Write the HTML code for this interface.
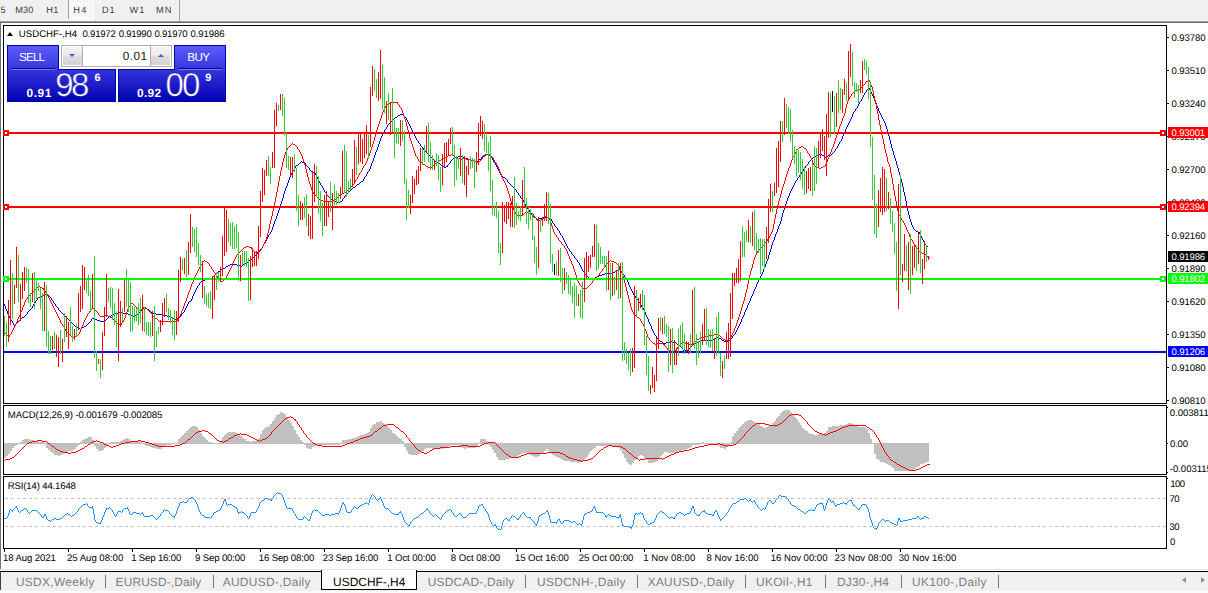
<!DOCTYPE html>
<html><head><meta charset="utf-8"><title>USDCHF-,H4</title>
<style>
html,body{margin:0;padding:0;background:#fff;}
html{overflow:hidden;width:1208px;height:593px;}
body{width:1208px;height:593px;position:relative;overflow:hidden;font-family:"Liberation Sans", sans-serif;}
.t{position:absolute;white-space:nowrap;font-family:"Liberation Sans", sans-serif;text-rendering:geometricPrecision;}
.abs{position:absolute}
</style></head><body>
<!-- toolbar -->
<div class="abs" style="left:0;top:0;width:1208px;height:21px;background:#f0f0f0"></div>
<div class="abs" style="left:0;top:21px;width:1208px;height:1px;background:#a0a0a0"></div>
<div class="abs" style="left:0;top:22px;width:1208px;height:1px;background:#696969"></div>
<div class="abs" style="left:0;top:22px;width:1px;height:547px;background:#707070"></div>
<div class="abs" style="left:68px;top:0;width:1px;height:19px;background:#a0a0a0"></div>
<div class="abs" style="left:69px;top:0;width:24px;height:19px;background:conic-gradient(#fff 25%,#f0f0f0 0 50%,#fff 0 75%,#f0f0f0 0) 0 0/2px 2px"></div>
<div class="abs" style="left:68px;top:19px;width:26px;height:1px;background:#fff"></div>
<div class="abs" style="left:93px;top:0;width:1px;height:20px;background:#fff"></div>
<div class="abs" style="left:179px;top:0;width:1px;height:21px;background:#a0a0a0"></div>
<!-- bottom tabs bar -->
<div class="abs" style="left:0;top:569px;width:1208px;height:1px;background:#e3e3e3"></div>
<div class="abs" style="left:0;top:572px;width:1208px;height:19px;background:#f0f0f0"></div>
<div class="abs" style="left:0;top:591px;width:1208px;height:2px;background:#fbfbfb"></div>
<div class="abs" style="left:0;top:571px;width:1208px;height:1px;background:#000"></div>
<div class="abs" style="left:0;top:572px;width:1px;height:18px;background:#404040"></div>
<div class="abs" style="left:321px;top:570px;width:96px;height:20px;background:#fff;border:1px solid #000;border-top:none;box-sizing:border-box"></div>
<div class="abs" style="left:1182px;top:577px;width:0;height:0;border-top:3.5px solid transparent;border-bottom:3.5px solid transparent;border-right:4px solid #909090"></div>
<div class="abs" style="left:1201px;top:577px;width:0;height:0;border-top:3.5px solid transparent;border-bottom:3.5px solid transparent;border-left:4px solid #909090"></div>
<!-- chart svg -->
<svg class="abs" style="left:0;top:0" width="1208" height="593" viewBox="0 0 1208 593" shape-rendering="crispEdges">
<path d="M4.5 304V306M5.5 306V309M6.5 309V311M7.5 311V314M8.5 314V316M9.5 316V318M10.5 318V320M11.5 320V321M12.5 321V323M13.5 323V325M14.5 325V326M15.5 324V325M16.5 323V324M17.5 322V323M18.5 321V322M19.5 320V321M20.5 319V320M21.5 318V319M22.5 317V318M23.5 317V318M24.5 316V317M25.5 315V316M26.5 314V315M27.5 312V314M28.5 311V312M29.5 310V311M30.5 309V310M31.5 308V309M32.5 306V308M33.5 304V306M34.5 303V304M35.5 301V303M36.5 300V301M37.5 298V300M38.5 297V298M39.5 297V298M40.5 296V297M41.5 296V297M42.5 295V296M43.5 295V296M44.5 294V295M45.5 294V295M46.5 295V296M47.5 295V296M48.5 295V296M49.5 296V297M50.5 297V298M51.5 298V300M52.5 300V301M53.5 301V303M54.5 303V304M55.5 304V306M56.5 306V307M57.5 307V308M58.5 308V310M59.5 310V311M60.5 311V312M61.5 312V313M62.5 313V314M63.5 314V315M64.5 315V316M65.5 316V317M66.5 317V318M67.5 318V319M68.5 319V320M69.5 320V321M70.5 321V322M71.5 322V323M72.5 323V324M73.5 324V325M74.5 325V326M75.5 326V327M76.5 326V327M77.5 327V328M78.5 328V329M79.5 328V329M80.5 329V330M81.5 328V329M82.5 327V328M83.5 327V328M84.5 326V327M85.5 326V327M86.5 325V326M87.5 324V325M88.5 323V324M89.5 322V323M90.5 321V322M91.5 319V321M92.5 318V319M93.5 318V319M94.5 319V320M95.5 319V320M96.5 319V320M97.5 320V321M98.5 320V321M99.5 320V321M100.5 321V322M101.5 321V322M102.5 321V322M103.5 321V322M104.5 321V322M105.5 320V321M106.5 319V320M107.5 318V319M108.5 317V318M109.5 316V317M110.5 316V317M111.5 315V316M112.5 315V316M113.5 314V315M114.5 313V314M115.5 313V314M116.5 313V314M117.5 313V314M118.5 313V314M119.5 312V313M120.5 312V313M121.5 312V313M122.5 312V313M123.5 313V314M124.5 313V314M125.5 313V314M126.5 313V314M127.5 313V314M128.5 314V315M129.5 314V315M130.5 315V316M131.5 315V316M132.5 316V317M133.5 316V317M134.5 315V316M135.5 315V316M136.5 314V315M137.5 314V315M138.5 313V315M139.5 312V313M140.5 311V312M141.5 310V311M142.5 309V310M143.5 308V309M144.5 308V309M145.5 308V309M146.5 308V309M147.5 309V310M148.5 309V310M149.5 310V311M150.5 311V312M151.5 312V313M152.5 312V313M153.5 313V314M154.5 313V314M155.5 313V314M156.5 314V315M157.5 314V315M158.5 314V315M159.5 314V315M160.5 314V315M161.5 314V315M162.5 315V316M163.5 315V316M164.5 315V316M165.5 315V316M166.5 315V316M167.5 316V317M168.5 316V317M169.5 316V317M170.5 317V318M171.5 317V318M172.5 318V319M173.5 318V319M174.5 319V320M175.5 319V320M176.5 318V319M177.5 318V319M178.5 317V318M179.5 317V318M180.5 316V317M181.5 314V316M182.5 313V314M183.5 312V313M184.5 310V312M185.5 308V310M186.5 306V308M187.5 304V306M188.5 302V304M189.5 301V302M190.5 301V302M191.5 299V301M192.5 296V299M193.5 294V296M194.5 292V294M195.5 290V292M196.5 288V290M197.5 286V288M198.5 285V286M199.5 283V285M200.5 282V283M201.5 281V282M202.5 281V282M203.5 280V281M204.5 280V281M205.5 279V280M206.5 279V280M207.5 279V280M208.5 278V279M209.5 278V279M210.5 278V279M211.5 278V279M212.5 277V278M213.5 276V277M214.5 275V276M215.5 274V275M216.5 273V274M217.5 272V273M218.5 271V272M219.5 271V272M220.5 270V271M221.5 269V270M222.5 269V270M223.5 268V269M224.5 268V269M225.5 267V268M226.5 266V267M227.5 266V267M228.5 265V266M229.5 265V266M230.5 264V265M231.5 264V265M232.5 264V265M233.5 264V265M234.5 264V265M235.5 264V265M236.5 264V265M237.5 265V266M238.5 265V266M239.5 265V266M240.5 265V266M241.5 266V267M242.5 265V266M243.5 264V265M244.5 264V265M245.5 263V264M246.5 262V263M247.5 262V263M248.5 261V262M249.5 260V261M250.5 259V260M251.5 259V260M252.5 258V259M253.5 257V258M254.5 256V257M255.5 255V256M256.5 254V256M257.5 253V254M258.5 252V253M259.5 251V252M260.5 250V251M261.5 248V250M262.5 246V248M263.5 244V246M264.5 243V244M265.5 241V243M266.5 239V241M267.5 237V239M268.5 235V237M269.5 234V235M270.5 232V234M271.5 230V232M272.5 227V230M273.5 224V227M274.5 221V224M275.5 219V221M276.5 216V219M277.5 213V216M278.5 210V213M279.5 208V210M280.5 204V208M281.5 201V204M282.5 198V201M283.5 194V198M284.5 191V194M285.5 188V191M286.5 186V188M287.5 183V186M288.5 180V183M289.5 177V180M290.5 175V177M291.5 173V175M292.5 171V173M293.5 170V171M294.5 168V170M295.5 166V168M296.5 165V166M297.5 165V166M298.5 164V165M299.5 163V164M300.5 162V163M301.5 161V162M302.5 162V163M303.5 162V163M304.5 163V164M305.5 163V165M306.5 165V166M307.5 166V167M308.5 167V168M309.5 168V170M310.5 170V171M311.5 171V172M312.5 171V172M313.5 172V173M314.5 173V174M315.5 173V175M316.5 175V177M317.5 177V179M318.5 179V181M319.5 181V183M320.5 183V185M321.5 185V186M322.5 186V188M323.5 188V190M324.5 190V192M325.5 192V193M326.5 193V195M327.5 195V196M328.5 196V197M329.5 197V198M330.5 198V199M331.5 199V200M332.5 200V201M333.5 200V201M334.5 201V202M335.5 201V202M336.5 202V203M337.5 202V203M338.5 202V203M339.5 202V203M340.5 201V202M341.5 201V202M342.5 199V201M343.5 198V199M344.5 196V198M345.5 195V196M346.5 194V195M347.5 193V194M348.5 192V193M349.5 191V192M350.5 190V191M351.5 189V190M352.5 188V189M353.5 187V188M354.5 187V188M355.5 186V187M356.5 185V186M357.5 184V185M358.5 184V185M359.5 183V184M360.5 182V183M361.5 181V182M362.5 181V182M363.5 179V181M364.5 177V179M365.5 176V177M366.5 174V176M367.5 172V174M368.5 171V172M369.5 169V171M370.5 166V169M371.5 163V166M372.5 161V163M373.5 158V161M374.5 155V158M375.5 152V155M376.5 150V152M377.5 147V150M378.5 144V147M379.5 141V144M380.5 138V141M381.5 136V138M382.5 134V136M383.5 132V134M384.5 130V132M385.5 129V130M386.5 127V129M387.5 125V127M388.5 124V125M389.5 123V124M390.5 122V123M391.5 121V122M392.5 120V121M393.5 119V120M394.5 118V119M395.5 117V118M396.5 117V118M397.5 116V117M398.5 115V116M399.5 115V116M400.5 114V115M401.5 114V115M402.5 114V115M403.5 115V116M404.5 116V117M405.5 117V118M406.5 118V120M407.5 120V122M408.5 122V124M409.5 124V126M410.5 126V128M411.5 128V130M412.5 130V132M413.5 132V134M414.5 134V136M415.5 136V138M416.5 138V140M417.5 140V141M418.5 141V143M419.5 143V144M420.5 144V146M421.5 146V147M422.5 147V148M423.5 148V150M424.5 150V151M425.5 151V152M426.5 152V153M427.5 153V154M428.5 154V155M429.5 155V156M430.5 156V157M431.5 157V158M432.5 158V159M433.5 159V160M434.5 160V161M435.5 161V162M436.5 161V162M437.5 162V163M438.5 163V164M439.5 163V164M440.5 164V165M441.5 165V166M442.5 165V166M443.5 166V167M444.5 167V168M445.5 167V168M446.5 166V167M447.5 165V167M448.5 164V165M449.5 163V164M450.5 161V163M451.5 160V161M452.5 159V160M453.5 158V159M454.5 157V158M455.5 157V158M456.5 157V158M457.5 157V158M458.5 156V157M459.5 156V157M460.5 155V156M461.5 156V157M462.5 156V157M463.5 157V158M464.5 157V158M465.5 158V159M466.5 158V159M467.5 158V159M468.5 159V160M469.5 159V160M470.5 159V160M471.5 160V161M472.5 160V161M473.5 160V161M474.5 161V162M475.5 161V162M476.5 161V162M477.5 161V162M478.5 160V161M479.5 159V160M480.5 159V160M481.5 157V159M482.5 156V157M483.5 155V156M484.5 155V156M485.5 154V155M486.5 154V155M487.5 154V155M488.5 154V155M489.5 155V156M490.5 156V157M491.5 157V158M492.5 158V160M493.5 160V162M494.5 162V163M495.5 163V165M496.5 165V167M497.5 167V169M498.5 169V171M499.5 171V173M500.5 173V175M501.5 175V176M502.5 176V177M503.5 177V178M504.5 177V178M505.5 178V179M506.5 179V180M507.5 180V182M508.5 182V183M509.5 183V184M510.5 184V185M511.5 185V186M512.5 186V187M513.5 187V188M514.5 188V189M515.5 189V190M516.5 190V192M517.5 192V193M518.5 193V195M519.5 195V196M520.5 196V198M521.5 198V199M522.5 199V200M523.5 200V202M524.5 202V204M525.5 204V206M526.5 206V208M527.5 208V209M528.5 209V210M529.5 210V212M530.5 212V213M531.5 213V214M532.5 214V216M533.5 216V217M534.5 217V218M535.5 217V218M536.5 218V219M537.5 219V220M538.5 218V219M539.5 218V219M540.5 218V219M541.5 218V219M542.5 218V219M543.5 217V218M544.5 217V218M545.5 217V218M546.5 217V218M547.5 217V218M548.5 217V218M549.5 218V219M550.5 218V219M551.5 219V221M552.5 221V223M553.5 223V224M554.5 224V226M555.5 226V227M556.5 227V228M557.5 228V230M558.5 230V231M559.5 231V233M560.5 233V235M561.5 235V236M562.5 236V238M563.5 238V240M564.5 240V242M565.5 242V244M566.5 244V246M567.5 246V248M568.5 248V249M569.5 249V251M570.5 251V252M571.5 252V254M572.5 254V255M573.5 255V256M574.5 256V258M575.5 258V259M576.5 259V260M577.5 260V262M578.5 262V263M579.5 263V265M580.5 265V267M581.5 267V269M582.5 269V271M583.5 271V272M584.5 272V274M585.5 274V275M586.5 275V276M587.5 276V277M588.5 277V278M589.5 278V279M590.5 278V279M591.5 278V279M592.5 278V279M593.5 278V279M594.5 278V279M595.5 277V278M596.5 277V278M597.5 276V277M598.5 276V277M599.5 275V276M600.5 275V276M601.5 275V276M602.5 274V275M603.5 274V275M604.5 274V275M605.5 273V274M606.5 273V274M607.5 273V274M608.5 273V274M609.5 273V274M610.5 273V274M611.5 273V274M612.5 272V273M613.5 272V273M614.5 272V273M615.5 271V272M616.5 271V272M617.5 270V271M618.5 270V271M619.5 269V270M620.5 270V271M621.5 271V272M622.5 272V274M623.5 274V275M624.5 275V277M625.5 277V279M626.5 279V280M627.5 280V282M628.5 282V285M629.5 285V287M630.5 287V289M631.5 289V291M632.5 291V293M633.5 293V295M634.5 295V296M635.5 296V298M636.5 298V299M637.5 299V300M638.5 300V302M639.5 302V303M640.5 303V305M641.5 305V307M642.5 307V308M643.5 308V310M644.5 310V312M645.5 312V315M646.5 315V317M647.5 317V319M648.5 319V322M649.5 322V324M650.5 324V326M651.5 326V329M652.5 329V331M653.5 331V333M654.5 333V335M655.5 335V336M656.5 336V338M657.5 338V339M658.5 339V340M659.5 340V341M660.5 341V342M661.5 341V342M662.5 342V343M663.5 343V344M664.5 343V344M665.5 343V344M666.5 342V343M667.5 342V343M668.5 342V343M669.5 342V343M670.5 342V343M671.5 341V342M672.5 341V342M673.5 342V343M674.5 342V343M675.5 342V343M676.5 343V344M677.5 344V345M678.5 344V345M679.5 345V346M680.5 346V347M681.5 347V348M682.5 348V350M683.5 350V351M684.5 351V352M685.5 350V351M686.5 350V351M687.5 350V351M688.5 349V350M689.5 348V349M690.5 347V348M691.5 346V347M692.5 345V346M693.5 344V345M694.5 344V345M695.5 343V344M696.5 342V343M697.5 342V343M698.5 341V342M699.5 341V342M700.5 341V342M701.5 340V341M702.5 340V341M703.5 340V341M704.5 340V341M705.5 340V341M706.5 340V341M707.5 340V341M708.5 340V341M709.5 340V341M710.5 340V341M711.5 340V341M712.5 340V341M713.5 339V340M714.5 339V340M715.5 338V339M716.5 337V338M717.5 337V338M718.5 337V338M719.5 338V339M720.5 338V339M721.5 339V340M722.5 340V341M723.5 340V341M724.5 341V342M725.5 341V342M726.5 342V343M727.5 341V342M728.5 341V342M729.5 340V341M730.5 339V340M731.5 338V339M732.5 336V338M733.5 335V336M734.5 334V335M735.5 332V334M736.5 330V332M737.5 328V330M738.5 326V328M739.5 324V326M740.5 322V324M741.5 319V322M742.5 317V319M743.5 315V317M744.5 312V315M745.5 310V312M746.5 308V310M747.5 305V308M748.5 303V305M749.5 301V303M750.5 298V301M751.5 296V298M752.5 294V296M753.5 291V294M754.5 289V291M755.5 287V289M756.5 284V287M757.5 282V284M758.5 280V282M759.5 278V280M760.5 276V278M761.5 274V276M762.5 272V274M763.5 269V272M764.5 267V269M765.5 264V267M766.5 261V264M767.5 259V261M768.5 255V259M769.5 252V255M770.5 249V252M771.5 245V249M772.5 242V245M773.5 240V242M774.5 237V240M775.5 234V237M776.5 232V234M777.5 229V232M778.5 226V229M779.5 224V226M780.5 221V224M781.5 217V221M782.5 213V217M783.5 210V213M784.5 207V210M785.5 204V207M786.5 201V204M787.5 198V201M788.5 196V198M789.5 193V196M790.5 191V193M791.5 189V191M792.5 187V189M793.5 185V187M794.5 183V185M795.5 181V183M796.5 180V181M797.5 178V180M798.5 177V178M799.5 175V177M800.5 174V175M801.5 172V174M802.5 171V172M803.5 169V171M804.5 168V169M805.5 166V168M806.5 165V166M807.5 164V165M808.5 162V164M809.5 161V162M810.5 160V161M811.5 159V160M812.5 158V159M813.5 157V158M814.5 157V158M815.5 156V157M816.5 156V157M817.5 155V156M818.5 155V156M819.5 154V155M820.5 154V155M821.5 154V155M822.5 155V156M823.5 155V156M824.5 156V157M825.5 157V158M826.5 156V157M827.5 156V157M828.5 155V156M829.5 155V156M830.5 155V156M831.5 154V155M832.5 153V154M833.5 152V153M834.5 151V152M835.5 149V151M836.5 148V149M837.5 146V148M838.5 144V146M839.5 142V144M840.5 141V142M841.5 139V141M842.5 136V139M843.5 134V136M844.5 132V134M845.5 129V132M846.5 127V129M847.5 125V127M848.5 123V125M849.5 121V123M850.5 119V121M851.5 117V119M852.5 114V117M853.5 112V114M854.5 111V112M855.5 109V111M856.5 108V109M857.5 106V108M858.5 104V106M859.5 102V104M860.5 101V102M861.5 99V101M862.5 97V99M863.5 95V97M864.5 93V95M865.5 92V93M866.5 90V92M867.5 89V90M868.5 88V89M869.5 88V90M870.5 90V92M871.5 92V94M872.5 94V96M873.5 96V98M874.5 98V101M875.5 101V103M876.5 103V106M877.5 106V108M878.5 108V111M879.5 111V113M880.5 113V115M881.5 115V117M882.5 117V119M883.5 119V121M884.5 121V123M885.5 123V126M886.5 126V129M887.5 129V133M888.5 133V136M889.5 136V140M890.5 140V144M891.5 144V148M892.5 148V151M893.5 151V155M894.5 155V158M895.5 158V161M896.5 161V165M897.5 165V168M898.5 168V172M899.5 172V175M900.5 175V179M901.5 179V183M902.5 183V187M903.5 187V192M904.5 192V196M905.5 196V201M906.5 201V206M907.5 206V211M908.5 211V215M909.5 215V219M910.5 219V222M911.5 222V225M912.5 225V227M913.5 227V229M914.5 229V230M915.5 230V231M916.5 231V232M917.5 231V232M918.5 232V233M919.5 232V234M920.5 234V236M921.5 236V238M922.5 238V240M923.5 240V242M924.5 242V244M925.5 244V245M926.5 245V246M927.5 246V247" stroke="#0000dc" stroke-width="1" fill="none"/>
<path d="M4.5 333V334M5.5 333V334M6.5 334V335M7.5 335V336M8.5 336V337M9.5 335V337M10.5 334V335M11.5 332V334M12.5 330V332M13.5 328V330M14.5 326V328M15.5 324V326M16.5 322V324M17.5 319V322M18.5 317V319M19.5 315V317M20.5 312V315M21.5 310V312M22.5 307V310M23.5 305V307M24.5 302V305M25.5 300V302M26.5 299V300M27.5 297V299M28.5 296V297M29.5 295V296M30.5 294V295M31.5 293V294M32.5 292V293M33.5 291V292M34.5 290V291M35.5 289V290M36.5 288V289M37.5 287V288M38.5 286V287M39.5 286V287M40.5 287V288M41.5 287V288M42.5 288V289M43.5 288V290M44.5 290V291M45.5 291V293M46.5 293V294M47.5 294V296M48.5 296V298M49.5 298V300M50.5 300V302M51.5 302V304M52.5 304V306M53.5 306V308M54.5 308V310M55.5 310V312M56.5 312V314M57.5 314V316M58.5 316V318M59.5 318V320M60.5 320V323M61.5 323V324M62.5 324V326M63.5 326V327M64.5 327V329M65.5 329V331M66.5 331V332M67.5 332V333M68.5 333V334M69.5 334V335M70.5 335V336M71.5 336V337M72.5 336V337M73.5 337V338M74.5 337V338M75.5 336V337M76.5 336V337M77.5 335V336M78.5 334V335M79.5 332V334M80.5 329V332M81.5 327V329M82.5 325V327M83.5 322V325M84.5 320V322M85.5 318V320M86.5 316V318M87.5 314V316M88.5 313V314M89.5 311V313M90.5 310V311M91.5 309V310M92.5 308V309M93.5 308V309M94.5 309V310M95.5 310V311M96.5 311V312M97.5 312V313M98.5 313V315M99.5 315V316M100.5 316V317M101.5 316V317M102.5 316V317M103.5 316V317M104.5 315V316M105.5 315V316M106.5 315V316M107.5 315V316M108.5 316V317M109.5 316V317M110.5 317V318M111.5 317V318M112.5 318V319M113.5 319V320M114.5 320V321M115.5 321V322M116.5 322V323M117.5 323V324M118.5 324V325M119.5 324V325M120.5 325V326M121.5 323V325M122.5 322V323M123.5 320V322M124.5 318V320M125.5 315V318M126.5 312V315M127.5 309V312M128.5 307V309M129.5 306V307M130.5 304V306M131.5 303V304M132.5 303V304M133.5 304V305M134.5 305V306M135.5 306V307M136.5 307V308M137.5 308V309M138.5 309V310M139.5 310V311M140.5 309V310M141.5 309V310M142.5 308V309M143.5 307V308M144.5 307V308M145.5 307V308M146.5 308V309M147.5 309V310M148.5 310V311M149.5 311V312M150.5 312V313M151.5 313V314M152.5 314V316M153.5 316V317M154.5 317V318M155.5 318V319M156.5 318V319M157.5 319V320M158.5 320V321M159.5 321V322M160.5 321V322M161.5 321V322M162.5 321V322M163.5 321V322M164.5 321V322M165.5 321V322M166.5 321V322M167.5 321V322M168.5 321V322M169.5 321V322M170.5 321V322M171.5 321V322M172.5 321V322M173.5 321V322M174.5 321V322M175.5 321V322M176.5 321V322M177.5 319V321M178.5 318V319M179.5 316V318M180.5 314V316M181.5 311V314M182.5 309V311M183.5 306V309M184.5 303V306M185.5 301V303M186.5 298V301M187.5 295V298M188.5 292V295M189.5 290V292M190.5 287V290M191.5 284V287M192.5 282V284M193.5 280V282M194.5 277V280M195.5 275V277M196.5 273V275M197.5 271V273M198.5 269V271M199.5 267V269M200.5 265V267M201.5 264V265M202.5 262V264M203.5 261V262M204.5 260V261M205.5 261V262M206.5 261V262M207.5 262V263M208.5 263V264M209.5 264V266M210.5 266V267M211.5 267V269M212.5 269V270M213.5 270V272M214.5 272V273M215.5 273V275M216.5 275V276M217.5 276V278M218.5 278V279M219.5 279V280M220.5 280V281M221.5 281V282M222.5 281V282M223.5 280V281M224.5 279V280M225.5 278V279M226.5 276V278M227.5 274V276M228.5 272V274M229.5 270V272M230.5 268V270M231.5 266V268M232.5 263V266M233.5 261V263M234.5 259V261M235.5 257V259M236.5 255V257M237.5 254V255M238.5 253V254M239.5 252V253M240.5 251V252M241.5 250V251M242.5 249V250M243.5 248V249M244.5 247V248M245.5 247V248M246.5 246V247M247.5 246V247M248.5 246V247M249.5 247V248M250.5 247V248M251.5 247V249M252.5 249V250M253.5 250V251M254.5 251V252M255.5 252V253M256.5 253V254M257.5 252V253M258.5 251V252M259.5 250V251M260.5 249V250M261.5 248V250M262.5 246V248M263.5 244V246M264.5 242V244M265.5 240V242M266.5 237V240M267.5 233V237M268.5 229V233M269.5 224V229M270.5 220V224M271.5 216V220M272.5 211V216M273.5 207V211M274.5 202V207M275.5 197V202M276.5 192V197M277.5 187V192M278.5 181V187M279.5 176V181M280.5 171V176M281.5 167V171M282.5 162V167M283.5 158V162M284.5 155V158M285.5 152V155M286.5 150V152M287.5 148V150M288.5 147V148M289.5 146V147M290.5 145V146M291.5 144V145M292.5 143V144M293.5 144V145M294.5 144V145M295.5 145V146M296.5 146V147M297.5 147V149M298.5 149V150M299.5 150V152M300.5 152V154M301.5 154V156M302.5 156V159M303.5 159V162M304.5 162V165M305.5 165V169M306.5 169V173M307.5 173V177M308.5 177V181M309.5 181V184M310.5 184V187M311.5 187V190M312.5 190V192M313.5 192V194M314.5 194V195M315.5 195V196M316.5 196V197M317.5 197V198M318.5 198V199M319.5 199V200M320.5 199V200M321.5 200V201M322.5 200V201M323.5 201V202M324.5 201V202M325.5 201V202M326.5 201V202M327.5 201V202M328.5 201V202M329.5 201V202M330.5 201V202M331.5 201V202M332.5 200V201M333.5 200V201M334.5 200V201M335.5 199V200M336.5 198V199M337.5 197V198M338.5 196V197M339.5 195V196M340.5 194V195M341.5 194V195M342.5 193V194M343.5 193V194M344.5 192V193M345.5 192V193M346.5 191V192M347.5 190V191M348.5 189V190M349.5 188V189M350.5 187V188M351.5 186V187M352.5 185V186M353.5 184V185M354.5 182V184M355.5 180V182M356.5 179V180M357.5 177V179M358.5 175V177M359.5 173V175M360.5 172V173M361.5 170V172M362.5 168V170M363.5 166V168M364.5 165V166M365.5 163V165M366.5 161V163M367.5 158V161M368.5 156V158M369.5 153V156M370.5 150V153M371.5 147V150M372.5 144V147M373.5 141V144M374.5 137V141M375.5 133V137M376.5 130V133M377.5 127V130M378.5 124V127M379.5 121V124M380.5 118V121M381.5 115V118M382.5 112V115M383.5 110V112M384.5 108V110M385.5 106V108M386.5 105V106M387.5 104V105M388.5 104V105M389.5 103V104M390.5 102V103M391.5 102V103M392.5 102V103M393.5 102V103M394.5 102V103M395.5 102V103M396.5 102V103M397.5 102V104M398.5 104V105M399.5 105V107M400.5 107V108M401.5 108V110M402.5 110V113M403.5 113V116M404.5 116V119M405.5 119V122M406.5 122V126M407.5 126V130M408.5 130V134M409.5 134V138M410.5 138V141M411.5 141V144M412.5 144V147M413.5 147V150M414.5 150V153M415.5 153V156M416.5 156V157M417.5 157V159M418.5 159V161M419.5 161V162M420.5 162V163M421.5 162V163M422.5 163V164M423.5 164V165M424.5 164V165M425.5 165V166M426.5 166V167M427.5 166V167M428.5 167V168M429.5 167V168M430.5 168V169M431.5 167V168M432.5 166V167M433.5 165V166M434.5 164V165M435.5 163V164M436.5 162V163M437.5 162V163M438.5 161V162M439.5 160V161M440.5 160V161M441.5 159V160M442.5 159V160M443.5 158V159M444.5 158V159M445.5 157V158M446.5 156V157M447.5 156V157M448.5 155V156M449.5 155V156M450.5 155V156M451.5 154V155M452.5 154V155M453.5 155V156M454.5 156V157M455.5 157V158M456.5 157V158M457.5 158V159M458.5 158V159M459.5 158V159M460.5 159V160M461.5 159V160M462.5 158V159M463.5 158V159M464.5 158V159M465.5 158V159M466.5 159V160M467.5 159V160M468.5 159V160M469.5 159V160M470.5 159V160M471.5 160V161M472.5 160V161M473.5 160V161M474.5 161V162M475.5 161V162M476.5 162V163M477.5 162V163M478.5 162V163M479.5 161V162M480.5 160V161M481.5 159V160M482.5 157V159M483.5 156V157M484.5 156V157M485.5 155V156M486.5 154V155M487.5 154V155M488.5 154V155M489.5 154V155M490.5 155V156M491.5 156V157M492.5 157V158M493.5 158V160M494.5 160V162M495.5 162V163M496.5 163V165M497.5 165V167M498.5 167V169M499.5 169V172M500.5 172V174M501.5 174V177M502.5 177V179M503.5 179V181M504.5 181V183M505.5 183V185M506.5 185V188M507.5 188V191M508.5 191V194M509.5 194V198M510.5 198V201M511.5 201V205M512.5 205V208M513.5 208V210M514.5 210V212M515.5 212V214M516.5 214V215M517.5 215V216M518.5 215V216M519.5 215V216M520.5 215V216M521.5 215V216M522.5 214V215M523.5 214V215M524.5 213V214M525.5 212V213M526.5 212V213M527.5 212V213M528.5 212V213M529.5 213V214M530.5 213V214M531.5 214V215M532.5 214V215M533.5 214V216M534.5 216V217M535.5 217V218M536.5 218V220M537.5 220V221M538.5 220V221M539.5 220V221M540.5 220V221M541.5 219V220M542.5 219V220M543.5 218V219M544.5 217V218M545.5 216V217M546.5 216V217M547.5 217V218M548.5 218V219M549.5 218V220M550.5 220V223M551.5 223V226M552.5 226V229M553.5 229V232M554.5 232V234M555.5 234V235M556.5 235V237M557.5 237V238M558.5 238V240M559.5 240V241M560.5 241V242M561.5 242V244M562.5 244V245M563.5 245V246M564.5 246V248M565.5 248V249M566.5 249V251M567.5 251V254M568.5 254V256M569.5 256V259M570.5 259V261M571.5 261V264M572.5 264V266M573.5 266V269M574.5 269V272M575.5 272V275M576.5 275V278M577.5 278V281M578.5 281V283M579.5 283V285M580.5 285V286M581.5 286V287M582.5 287V288M583.5 288V289M584.5 288V289M585.5 288V289M586.5 288V289M587.5 287V288M588.5 286V287M589.5 285V286M590.5 284V285M591.5 283V284M592.5 281V283M593.5 280V281M594.5 279V280M595.5 278V279M596.5 277V278M597.5 276V277M598.5 275V276M599.5 273V275M600.5 272V273M601.5 271V272M602.5 269V271M603.5 268V269M604.5 267V268M605.5 265V267M606.5 264V265M607.5 263V264M608.5 262V263M609.5 261V262M610.5 260V261M611.5 261V262M612.5 261V262M613.5 261V262M614.5 262V263M615.5 262V263M616.5 263V264M617.5 264V265M618.5 264V266M619.5 266V269M620.5 269V271M621.5 271V273M622.5 273V276M623.5 276V279M624.5 279V283M625.5 283V287M626.5 287V291M627.5 291V295M628.5 295V299M629.5 299V303M630.5 303V307M631.5 307V310M632.5 310V312M633.5 312V314M634.5 314V315M635.5 315V316M636.5 316V317M637.5 317V318M638.5 317V318M639.5 318V319M640.5 319V321M641.5 321V323M642.5 323V324M643.5 324V326M644.5 326V329M645.5 329V331M646.5 331V334M647.5 334V337M648.5 337V338M649.5 338V340M650.5 340V341M651.5 341V342M652.5 342V343M653.5 343V344M654.5 343V344M655.5 344V345M656.5 344V345M657.5 343V344M658.5 343V344M659.5 343V344M660.5 343V344M661.5 343V344M662.5 343V344M663.5 344V345M664.5 344V346M665.5 346V347M666.5 347V348M667.5 348V350M668.5 350V351M669.5 350V351M670.5 351V352M671.5 352V353M672.5 352V353M673.5 351V352M674.5 350V351M675.5 350V351M676.5 349V350M677.5 347V349M678.5 346V347M679.5 345V346M680.5 344V345M681.5 343V344M682.5 343V344M683.5 342V343M684.5 342V343M685.5 343V344M686.5 343V344M687.5 343V344M688.5 344V345M689.5 344V345M690.5 344V345M691.5 344V345M692.5 344V345M693.5 343V344M694.5 342V343M695.5 341V342M696.5 340V341M697.5 339V340M698.5 339V340M699.5 338V339M700.5 338V339M701.5 337V338M702.5 337V338M703.5 337V338M704.5 336V337M705.5 336V337M706.5 336V337M707.5 336V337M708.5 336V337M709.5 335V336M710.5 335V336M711.5 335V336M712.5 335V336M713.5 335V336M714.5 334V335M715.5 334V335M716.5 334V335M717.5 334V335M718.5 334V335M719.5 335V336M720.5 336V337M721.5 337V338M722.5 338V339M723.5 339V340M724.5 339V340M725.5 340V341M726.5 340V341M727.5 340V341M728.5 339V340M729.5 338V339M730.5 337V338M731.5 335V337M732.5 333V335M733.5 331V333M734.5 328V331M735.5 326V328M736.5 323V326M737.5 320V323M738.5 317V320M739.5 314V317M740.5 311V314M741.5 307V311M742.5 304V307M743.5 301V304M744.5 297V301M745.5 293V297M746.5 289V293M747.5 284V289M748.5 280V284M749.5 275V280M750.5 271V275M751.5 268V271M752.5 264V268M753.5 260V264M754.5 257V260M755.5 255V257M756.5 253V255M757.5 251V253M758.5 250V251M759.5 249V250M760.5 248V249M761.5 247V248M762.5 246V247M763.5 245V246M764.5 243V245M765.5 242V243M766.5 241V242M767.5 239V241M768.5 238V239M769.5 236V238M770.5 234V236M771.5 232V234M772.5 229V232M773.5 224V229M774.5 219V224M775.5 214V219M776.5 209V214M777.5 205V209M778.5 201V205M779.5 198V201M780.5 194V198M781.5 190V194M782.5 187V190M783.5 184V187M784.5 181V184M785.5 177V181M786.5 174V177M787.5 171V174M788.5 168V171M789.5 166V168M790.5 163V166M791.5 160V163M792.5 157V160M793.5 156V157M794.5 154V156M795.5 152V154M796.5 150V152M797.5 149V150M798.5 148V149M799.5 147V148M800.5 147V148M801.5 146V147M802.5 146V147M803.5 147V148M804.5 148V149M805.5 148V149M806.5 149V151M807.5 151V153M808.5 153V154M809.5 154V156M810.5 156V158M811.5 158V160M812.5 160V163M813.5 163V165M814.5 165V166M815.5 166V167M816.5 166V167M817.5 167V168M818.5 167V168M819.5 168V169M820.5 168V169M821.5 167V168M822.5 167V168M823.5 166V167M824.5 166V167M825.5 164V166M826.5 162V164M827.5 159V162M828.5 157V159M829.5 154V157M830.5 152V154M831.5 149V152M832.5 147V149M833.5 144V147M834.5 141V144M835.5 138V141M836.5 135V138M837.5 132V135M838.5 129V132M839.5 126V129M840.5 124V126M841.5 121V124M842.5 118V121M843.5 116V118M844.5 113V116M845.5 108V113M846.5 104V108M847.5 101V104M848.5 99V101M849.5 97V99M850.5 96V97M851.5 94V96M852.5 93V94M853.5 92V93M854.5 91V92M855.5 90V91M856.5 90V91M857.5 90V91M858.5 90V91M859.5 89V90M860.5 88V89M861.5 87V88M862.5 86V88M863.5 85V86M864.5 84V85M865.5 82V84M866.5 81V82M867.5 81V82M868.5 81V82M869.5 80V82M870.5 82V85M871.5 85V87M872.5 87V91M873.5 91V96M874.5 96V100M875.5 100V104M876.5 104V109M877.5 109V114M878.5 114V120M879.5 120V125M880.5 125V130M881.5 130V135M882.5 135V139M883.5 139V144M884.5 144V149M885.5 149V153M886.5 153V157M887.5 157V162M888.5 162V164M889.5 164V167M890.5 167V173M891.5 173V178M892.5 178V184M893.5 184V190M894.5 190V196M895.5 196V201M896.5 201V206M897.5 206V211M898.5 211V215M899.5 215V216M900.5 216V218M901.5 218V220M902.5 220V221M903.5 221V223M904.5 223V225M905.5 225V227M906.5 227V230M907.5 230V232M908.5 232V234M909.5 234V237M910.5 237V239M911.5 239V240M912.5 240V242M913.5 242V244M914.5 244V245M915.5 245V247M916.5 247V248M917.5 248V249M918.5 249V251M919.5 251V252M920.5 251V252M921.5 252V253M922.5 253V254M923.5 253V254M924.5 254V255M925.5 254V255M926.5 255V256M927.5 256V257M928.5 256V257M929.5 257V258" stroke="#ff0000" stroke-width="1" fill="none"/>
<rect x="4" y="132" width="1162" height="2" fill="#ff0000"/>
<rect x="4" y="206" width="1162" height="2" fill="#ff0000"/>
<rect x="4" y="278" width="1162" height="2" fill="#00ff00"/>
<rect x="4" y="351" width="1162" height="2" fill="#0000ff"/>
<path d="M4.5 316V336M6.5 322V347M12.5 273V319M18.5 255V302M26.5 268V283M28.5 269V303M30.5 293V307M34.5 272V309M36.5 280V299M38.5 283V291M40.5 288V309M42.5 293V331M46.5 285V347M48.5 331V354M50.5 336V354M54.5 332V349M60.5 330V354M64.5 313V342M70.5 307V335M72.5 326V342M76.5 324V337M86.5 279V293M88.5 275V296M90.5 291V312M94.5 256V358M96.5 351V371M100.5 359V378M108.5 288V302M110.5 287V308M112.5 288V320M114.5 303V325M116.5 311V347M122.5 308V322M126.5 269V307M128.5 279V312M130.5 282V332M132.5 306V331M134.5 307V322M136.5 308V321M138.5 303V325M140.5 298V323M144.5 307V332M146.5 322V335M148.5 322V336M150.5 322V337M154.5 306V361M156.5 331V347M158.5 327V334M166.5 294V312M168.5 308V320M170.5 310V323M172.5 317V335M174.5 310V340M182.5 259V270M186.5 250V277M192.5 227V247M194.5 229V252M196.5 227V257M198.5 243V265M200.5 255V272M204.5 286V304M206.5 294V306M208.5 293V308M210.5 291V309M216.5 275V290M218.5 272V282M228.5 219V242M230.5 223V246M232.5 222V249M234.5 226V249M236.5 224V248M238.5 232V281M242.5 251V265M244.5 251V266M246.5 251V267M248.5 258V301M268.5 156V176M270.5 167V184M278.5 105V111M282.5 94V116M284.5 98V135M286.5 133V168M288.5 156V170M294.5 154V172M296.5 168V211M298.5 195V226M304.5 197V218M306.5 194V226M316.5 166V197M318.5 176V214M320.5 191V221M322.5 203V236M330.5 182V212M334.5 185V205M336.5 191V205M338.5 193V203M344.5 145V193M346.5 151V197M348.5 181V193M350.5 179V190M356.5 147V175M368.5 135V159M374.5 69V91M376.5 79V98M382.5 65V109M384.5 77V113M388.5 93V120M392.5 88V132M394.5 120V158M396.5 128V143M398.5 128V144M402.5 120V141M404.5 131V184M406.5 179V220M408.5 190V208M422.5 148V165M424.5 145V162M428.5 123V162M430.5 142V168M432.5 155V170M436.5 153V166M438.5 155V180M440.5 167V192M452.5 127V156M454.5 145V186M456.5 156V180M458.5 158V169M462.5 155V183M470.5 156V169M472.5 158V168M474.5 159V188M484.5 124V151M486.5 135V153M488.5 142V171M490.5 136V191M492.5 180V215M494.5 205V216M496.5 202V218M498.5 211V253M500.5 243V265M514.5 177V228M516.5 203V225M518.5 211V219M520.5 206V221M524.5 167V206M526.5 198V224M528.5 207V229M530.5 209V220M532.5 213V240M534.5 236V263M536.5 247V275M540.5 219V232M548.5 193V224M550.5 204V263M552.5 254V272M556.5 262V275M560.5 248V282M562.5 268V294M566.5 272V284M568.5 275V294M570.5 278V295M572.5 286V303M574.5 283V318M576.5 286V306M580.5 290V318M582.5 282V319M596.5 225V271M598.5 243V269M600.5 247V264M602.5 256V264M604.5 256V268M606.5 256V291M610.5 263V300M614.5 277V295M618.5 263V299M622.5 262V361M624.5 342V360M626.5 349V364M628.5 353V370M630.5 349V376M636.5 290V316M642.5 290V310M644.5 295V345M646.5 336V375M648.5 356V391M660.5 317V331M664.5 316V334M666.5 324V337M668.5 326V372M672.5 328V373M678.5 329V356M680.5 325V346M682.5 322V350M684.5 334V354M690.5 334V353M694.5 287V349M696.5 334V365M698.5 341V358M700.5 332V354M706.5 308V345M708.5 329V347M710.5 330V348M712.5 329V351M716.5 317V356M718.5 312V354M720.5 353V376M724.5 356V369M742.5 226V257M744.5 232V257M746.5 230V242M750.5 226V243M754.5 210V250M756.5 233V253M758.5 239V253M760.5 238V274M762.5 239V266M764.5 239V269M772.5 191V212M782.5 121V142M786.5 104V128M788.5 107V134M790.5 109V142M792.5 130V158M794.5 146V164M796.5 149V177M798.5 150V173M800.5 152V180M802.5 159V189M804.5 167V195M812.5 163V196M814.5 146V191M816.5 148V184M830.5 93V137M834.5 96V134M838.5 80V113M840.5 88V110M846.5 83V101M852.5 52V86M854.5 82V98M856.5 83V92M858.5 85V103M864.5 59V70M866.5 61V74M868.5 67V99M870.5 83V147M872.5 137V200M874.5 175V234M876.5 204V238M886.5 178V211M890.5 198V224M892.5 211V232M894.5 223V254M896.5 242V291M900.5 175V275M906.5 245V271M910.5 234V294M916.5 246V271M920.5 230V273M926.5 245V262" stroke="#32cd32" stroke-width="1" fill="none"/>
<path d="M8.5 300V342M10.5 260V325M14.5 285V304M16.5 247V288M20.5 284V321M22.5 272V299M24.5 267V291M32.5 273V302M44.5 282V331M52.5 336V350M56.5 335V357M58.5 337V367M62.5 339V362M66.5 316V337M68.5 322V349M74.5 329V340M78.5 293V330M80.5 286V312M82.5 265V309M84.5 267V290M92.5 274V309M98.5 359V364M102.5 332V370M104.5 307V336M106.5 274V317M118.5 289V361M120.5 301V327M124.5 280V312M142.5 295V331M152.5 311V336M160.5 320V332M162.5 303V325M164.5 298V317M176.5 311V335M178.5 270V322M180.5 257V282M184.5 258V274M188.5 242V275M190.5 214V253M202.5 261V298M212.5 276V319M214.5 275V300M220.5 267V282M222.5 236V276M224.5 208V256M226.5 210V252M240.5 255V281M250.5 256V300M252.5 248V267M254.5 252V266M256.5 251V266M258.5 226V259M260.5 191V237M262.5 168V202M264.5 170V195M266.5 160V176M272.5 152V168M274.5 110V168M276.5 103V126M280.5 94V110M290.5 157V176M292.5 157V178M300.5 201V220M302.5 203V220M308.5 214V236M310.5 216V239M312.5 171V239M314.5 164V202M324.5 195V226M326.5 191V226M328.5 202V217M332.5 193V230M340.5 187V199M342.5 151V194M352.5 169V187M354.5 140V184M358.5 132V164M360.5 134V162M362.5 139V164M364.5 134V158M366.5 125V154M370.5 87V147M372.5 66V96M378.5 72V101M380.5 50V99M386.5 101V124M390.5 102V135M400.5 120V146M410.5 195V214M412.5 176V203M414.5 179V194M416.5 170V185M418.5 166V184M420.5 148V171M426.5 126V152M434.5 161V170M442.5 154V185M444.5 143V167M446.5 142V162M448.5 139V156M450.5 128V144M460.5 148V176M464.5 156V185M466.5 166V197M468.5 159V175M476.5 152V172M478.5 123V165M480.5 116V136M482.5 121V139M502.5 202V253M504.5 205V222M506.5 202V224M508.5 202V219M510.5 203V227M512.5 196V227M522.5 180V216M538.5 217V268M542.5 217V226M544.5 204V221M546.5 192V221M558.5 250V276M564.5 268V290M578.5 294V306M584.5 258V302M586.5 252V278M588.5 256V272M590.5 255V268M592.5 246V257M594.5 224V257M608.5 251V290M612.5 263V296M616.5 270V290M620.5 263V298M632.5 348V372M634.5 286V368M638.5 298V311M640.5 294V308M650.5 385V394M652.5 367V388M654.5 375V392M656.5 338V381M658.5 318V349M662.5 318V334M670.5 329V365M674.5 340V365M676.5 348V365M686.5 341V352M688.5 342V354M692.5 290V346M702.5 324V345M704.5 309V341M714.5 338V359M722.5 361V378M726.5 332V359M728.5 323V359M730.5 293V357M732.5 273V319M734.5 273V286M736.5 268V283M738.5 259V283M740.5 241V281M748.5 220V242M752.5 212V246M766.5 227V259M768.5 199V243M770.5 184V212M774.5 183V196M776.5 148V193M778.5 141V187M780.5 121V162M784.5 98V135M806.5 171V193M808.5 168V189M810.5 167V191M818.5 141V168M820.5 133V158M822.5 129V151M824.5 136V160M826.5 114V176M828.5 92V138M836.5 93V127M842.5 89V113M844.5 79V95M848.5 51V99M850.5 44V77M860.5 80V93M862.5 61V93M878.5 190V227M880.5 178V212M882.5 167V215M884.5 169V212M888.5 192V209M898.5 184V309M902.5 264V282M904.5 234V271M908.5 242V290M912.5 246V275M914.5 245V268M918.5 233V264M922.5 259V284M924.5 241V269M928.5 256V260" stroke="#ff0000" stroke-width="1" fill="none"/>
<path d="M554.5 264V275M832.5 91V112" stroke="#000000" stroke-width="1" fill="none"/>
<path d="M4 443h2V458h-2zM6 443h2V456h-2zM8 443h2V454h-2zM10 443h2V451h-2zM12 443h2V448h-2zM14 443h2V446h-2zM16 443h2V445h-2zM18 443h2V444h-2zM20 442h2V444h-2zM22 440h2V444h-2zM24 439h2V444h-2zM26 439h2V444h-2zM28 439h2V444h-2zM30 440h2V444h-2zM32 440h2V444h-2zM34 441h2V444h-2zM36 441h2V444h-2zM38 442h2V444h-2zM40 442h2V444h-2zM42 442h2V444h-2zM44 443h2V444h-2zM46 443h2V448h-2zM48 443h2V450h-2zM50 443h2V452h-2zM52 443h2V453h-2zM54 443h2V455h-2zM56 443h2V455h-2zM58 443h2V456h-2zM60 443h2V455h-2zM62 443h2V454h-2zM64 443h2V453h-2zM66 443h2V452h-2zM68 443h2V451h-2zM70 443h2V451h-2zM72 443h2V450h-2zM74 443h2V449h-2zM76 443h2V447h-2zM78 443h2V445h-2zM80 442h2V444h-2zM82 440h2V444h-2zM84 439h2V444h-2zM86 438h2V444h-2zM88 437h2V444h-2zM90 437h2V444h-2zM92 440h2V444h-2zM94 443h2V446h-2zM96 443h2V449h-2zM98 443h2V451h-2zM100 443h2V451h-2zM102 443h2V450h-2zM104 443h2V448h-2zM106 443h2V445h-2zM108 443h2V444h-2zM110 442h2V444h-2zM112 442h2V444h-2zM114 442h2V444h-2zM116 442h2V444h-2zM118 442h2V444h-2zM120 441h2V444h-2zM122 440h2V444h-2zM124 439h2V444h-2zM126 438h2V444h-2zM128 439h2V444h-2zM130 441h2V444h-2zM132 441h2V444h-2zM134 441h2V444h-2zM136 441h2V444h-2zM138 441h2V444h-2zM140 442h2V444h-2zM142 443h2V444h-2zM144 443h2V445h-2zM146 443h2V446h-2zM148 443h2V446h-2zM150 443h2V447h-2zM152 443h2V448h-2zM154 443h2V448h-2zM156 443h2V449h-2zM158 443h2V449h-2zM160 443h2V449h-2zM162 443h2V447h-2zM164 443h2V446h-2zM166 443h2V445h-2zM168 443h2V445h-2zM170 443h2V445h-2zM172 443h2V444h-2zM174 443h2V444h-2zM176 443h2V444h-2zM178 439h2V444h-2zM180 437h2V444h-2zM182 435h2V444h-2zM184 433h2V444h-2zM186 431h2V444h-2zM188 429h2V444h-2zM190 427h2V444h-2zM192 426h2V444h-2zM194 426h2V444h-2zM196 427h2V444h-2zM198 430h2V444h-2zM200 433h2V444h-2zM202 436h2V444h-2zM204 438h2V444h-2zM206 440h2V444h-2zM208 442h2V444h-2zM210 442h2V444h-2zM212 443h2V444h-2zM214 443h2V444h-2zM216 443h2V444h-2zM218 443h2V444h-2zM220 442h2V444h-2zM222 437h2V444h-2zM224 435h2V444h-2zM226 433h2V444h-2zM228 432h2V444h-2zM230 432h2V444h-2zM232 432h2V444h-2zM234 432h2V444h-2zM236 433h2V444h-2zM238 435h2V444h-2zM240 436h2V444h-2zM242 438h2V444h-2zM244 439h2V444h-2zM246 441h2V444h-2zM248 441h2V444h-2zM250 442h2V444h-2zM252 441h2V444h-2zM254 441h2V444h-2zM256 440h2V444h-2zM258 438h2V444h-2zM260 434h2V444h-2zM262 430h2V444h-2zM264 428h2V444h-2zM266 427h2V444h-2zM268 426h2V444h-2zM270 424h2V444h-2zM272 421h2V444h-2zM274 418h2V444h-2zM276 415h2V444h-2zM278 414h2V444h-2zM280 412h2V444h-2zM282 413h2V444h-2zM284 414h2V444h-2zM286 417h2V444h-2zM288 420h2V444h-2zM290 423h2V444h-2zM292 426h2V444h-2zM294 430h2V444h-2zM296 434h2V444h-2zM298 437h2V444h-2zM300 440h2V444h-2zM302 442h2V444h-2zM304 443h2V445h-2zM306 443h2V448h-2zM308 443h2V449h-2zM310 443h2V449h-2zM312 443h2V447h-2zM314 443h2V446h-2zM316 443h2V445h-2zM318 443h2V445h-2zM320 443h2V445h-2zM322 443h2V445h-2zM324 443h2V445h-2zM326 443h2V445h-2zM328 443h2V445h-2zM330 443h2V445h-2zM332 443h2V445h-2zM334 443h2V445h-2zM336 443h2V445h-2zM338 443h2V445h-2zM340 443h2V444h-2zM342 440h2V444h-2zM344 440h2V444h-2zM346 440h2V444h-2zM348 439h2V444h-2zM350 439h2V444h-2zM352 438h2V444h-2zM354 438h2V444h-2zM356 437h2V444h-2zM358 436h2V444h-2zM360 435h2V444h-2zM362 435h2V444h-2zM364 434h2V444h-2zM366 433h2V444h-2zM368 432h2V444h-2zM370 428h2V444h-2zM372 425h2V444h-2zM374 424h2V444h-2zM376 422h2V444h-2zM378 422h2V444h-2zM380 421h2V444h-2zM382 423h2V444h-2zM384 424h2V444h-2zM386 426h2V444h-2zM388 428h2V444h-2zM390 430h2V444h-2zM392 433h2V444h-2zM394 434h2V444h-2zM396 436h2V444h-2zM398 438h2V444h-2zM400 439h2V444h-2zM402 441h2V444h-2zM404 443h2V447h-2zM406 443h2V451h-2zM408 443h2V454h-2zM410 443h2V455h-2zM412 443h2V455h-2zM414 443h2V455h-2zM416 443h2V455h-2zM418 443h2V454h-2zM420 443h2V452h-2zM422 443h2V451h-2zM424 443h2V449h-2zM426 443h2V448h-2zM428 443h2V448h-2zM430 443h2V448h-2zM432 443h2V449h-2zM434 443h2V449h-2zM436 443h2V449h-2zM438 443h2V449h-2zM440 443h2V449h-2zM442 443h2V449h-2zM444 443h2V448h-2zM446 443h2V447h-2zM448 443h2V446h-2zM450 443h2V445h-2zM452 443h2V445h-2zM454 443h2V445h-2zM456 443h2V445h-2zM458 443h2V446h-2zM460 443h2V447h-2zM462 443h2V448h-2zM464 443h2V449h-2zM466 443h2V448h-2zM468 443h2V448h-2zM470 443h2V448h-2zM472 443h2V448h-2zM474 443h2V448h-2zM476 443h2V446h-2zM478 443h2V444h-2zM480 439h2V444h-2zM482 439h2V444h-2zM484 439h2V444h-2zM486 441h2V444h-2zM488 443h2V445h-2zM490 443h2V447h-2zM492 443h2V450h-2zM494 443h2V453h-2zM496 443h2V457h-2zM498 443h2V460h-2zM500 443h2V460h-2zM502 443h2V460h-2zM504 443h2V460h-2zM506 443h2V459h-2zM508 443h2V459h-2zM510 443h2V458h-2zM512 443h2V458h-2zM514 443h2V458h-2zM516 443h2V457h-2zM518 443h2V455h-2zM520 443h2V454h-2zM522 443h2V453h-2zM524 443h2V453h-2zM526 443h2V453h-2zM528 443h2V454h-2zM530 443h2V455h-2zM532 443h2V456h-2zM534 443h2V457h-2zM536 443h2V457h-2zM538 443h2V456h-2zM540 443h2V454h-2zM542 443h2V453h-2zM544 443h2V451h-2zM546 443h2V449h-2zM548 443h2V451h-2zM550 443h2V453h-2zM552 443h2V455h-2zM554 443h2V456h-2zM556 443h2V457h-2zM558 443h2V458h-2zM560 443h2V459h-2zM562 443h2V460h-2zM564 443h2V461h-2zM566 443h2V461h-2zM568 443h2V461h-2zM570 443h2V462h-2zM572 443h2V462h-2zM574 443h2V462h-2zM576 443h2V462h-2zM578 443h2V463h-2zM580 443h2V462h-2zM582 443h2V461h-2zM584 443h2V459h-2zM586 443h2V457h-2zM588 443h2V454h-2zM590 443h2V451h-2zM592 443h2V449h-2zM594 443h2V448h-2zM596 443h2V446h-2zM598 443h2V446h-2zM600 443h2V446h-2zM602 443h2V446h-2zM604 443h2V446h-2zM606 443h2V446h-2zM608 443h2V446h-2zM610 443h2V446h-2zM612 443h2V446h-2zM614 443h2V446h-2zM616 443h2V447h-2zM618 443h2V448h-2zM620 443h2V450h-2zM622 443h2V454h-2zM624 443h2V458h-2zM626 443h2V462h-2zM628 443h2V464h-2zM630 443h2V465h-2zM632 443h2V463h-2zM634 443h2V460h-2zM636 443h2V458h-2zM638 443h2V456h-2zM640 443h2V455h-2zM642 443h2V456h-2zM644 443h2V458h-2zM646 443h2V460h-2zM648 443h2V463h-2zM650 443h2V463h-2zM652 443h2V463h-2zM654 443h2V462h-2zM656 443h2V461h-2zM658 443h2V459h-2zM660 443h2V456h-2zM662 443h2V454h-2zM664 443h2V452h-2zM666 443h2V452h-2zM668 443h2V453h-2zM670 443h2V453h-2zM672 443h2V453h-2zM674 443h2V453h-2zM676 443h2V452h-2zM678 443h2V451h-2zM680 443h2V451h-2zM682 443h2V450h-2zM684 443h2V450h-2zM686 443h2V449h-2zM688 443h2V448h-2zM690 443h2V447h-2zM692 443h2V445h-2zM694 443h2V445h-2zM696 443h2V445h-2zM698 443h2V445h-2zM700 443h2V444h-2zM702 442h2V444h-2zM704 443h2V444h-2zM706 443h2V444h-2zM708 443h2V444h-2zM710 443h2V445h-2zM712 443h2V445h-2zM714 443h2V445h-2zM716 443h2V445h-2zM718 443h2V446h-2zM720 443h2V448h-2zM722 443h2V448h-2zM724 443h2V449h-2zM726 443h2V447h-2zM728 443h2V445h-2zM730 442h2V444h-2zM732 436h2V444h-2zM734 433h2V444h-2zM736 431h2V444h-2zM738 428h2V444h-2zM740 426h2V444h-2zM742 424h2V444h-2zM744 422h2V444h-2zM746 421h2V444h-2zM748 420h2V444h-2zM750 420h2V444h-2zM752 421h2V444h-2zM754 422h2V444h-2zM756 423h2V444h-2zM758 424h2V444h-2zM760 426h2V444h-2zM762 427h2V444h-2zM764 428h2V444h-2zM766 427h2V444h-2zM768 426h2V444h-2zM770 425h2V444h-2zM772 423h2V444h-2zM774 421h2V444h-2zM776 418h2V444h-2zM778 416h2V444h-2zM780 413h2V444h-2zM782 411h2V444h-2zM784 410h2V444h-2zM786 410h2V444h-2zM788 410h2V444h-2zM790 412h2V444h-2zM792 414h2V444h-2zM794 417h2V444h-2zM796 419h2V444h-2zM798 422h2V444h-2zM800 425h2V444h-2zM802 428h2V444h-2zM804 430h2V444h-2zM806 431h2V444h-2zM808 433h2V444h-2zM810 434h2V444h-2zM812 434h2V444h-2zM814 435h2V444h-2zM816 435h2V444h-2zM818 434h2V444h-2zM820 434h2V444h-2zM822 434h2V444h-2zM824 433h2V444h-2zM826 431h2V444h-2zM828 427h2V444h-2zM830 427h2V444h-2zM832 426h2V444h-2zM834 426h2V444h-2zM836 426h2V444h-2zM838 426h2V444h-2zM840 425h2V444h-2zM842 425h2V444h-2zM844 425h2V444h-2zM846 424h2V444h-2zM848 423h2V444h-2zM850 423h2V444h-2zM852 424h2V444h-2zM854 425h2V444h-2zM856 426h2V444h-2zM858 427h2V444h-2zM860 427h2V444h-2zM862 427h2V444h-2zM864 427h2V444h-2zM866 429h2V444h-2zM868 433h2V444h-2zM870 439h2V444h-2zM872 443h2V444h-2zM874 443h2V454h-2zM876 443h2V459h-2zM878 443h2V460h-2zM880 443h2V462h-2zM882 443h2V462h-2zM884 443h2V463h-2zM886 443h2V464h-2zM888 443h2V465h-2zM890 443h2V466h-2zM892 443h2V468h-2zM894 443h2V471h-2zM896 443h2V471h-2zM898 443h2V471h-2zM900 443h2V471h-2zM902 443h2V471h-2zM904 443h2V471h-2zM906 443h2V471h-2zM908 443h2V471h-2zM910 443h2V471h-2zM912 443h2V470h-2zM914 443h2V469h-2zM916 443h2V467h-2zM918 443h2V466h-2zM920 443h2V464h-2zM922 443h2V464h-2zM924 443h2V463h-2zM926 443h2V462h-2zM928 443h1V462h-1z" fill="#c0c0c0"/>
<path d="M4.5 460V461M5.5 459V460M6.5 459V460M7.5 459V460M8.5 459V460M9.5 459V460M10.5 458V459M11.5 458V459M12.5 457V458M13.5 457V458M14.5 456V457M15.5 455V456M16.5 454V455M17.5 453V454M18.5 452V453M19.5 451V452M20.5 450V451M21.5 449V450M22.5 448V449M23.5 447V448M24.5 446V447M25.5 445V446M26.5 444V445M27.5 443V444M28.5 443V444M29.5 442V443M30.5 442V443M31.5 442V443M32.5 441V442M33.5 441V442M34.5 441V442M35.5 441V442M36.5 441V442M37.5 440V441M38.5 440V441M39.5 440V441M40.5 440V441M41.5 440V441M42.5 441V442M43.5 441V442M44.5 441V442M45.5 441V442M46.5 441V442M47.5 442V443M48.5 443V444M49.5 443V444M50.5 444V445M51.5 445V446M52.5 446V447M53.5 446V447M54.5 447V448M55.5 448V449M56.5 449V450M57.5 449V450M58.5 450V451M59.5 450V451M60.5 451V452M61.5 451V452M62.5 451V452M63.5 452V453M64.5 452V453M65.5 452V453M66.5 452V453M67.5 452V453M68.5 453V454M69.5 453V454M70.5 453V454M71.5 452V453M72.5 452V453M73.5 452V453M74.5 452V453M75.5 452V453M76.5 451V452M77.5 451V452M78.5 450V451M79.5 450V451M80.5 449V450M81.5 449V450M82.5 448V449M83.5 448V449M84.5 447V448M85.5 446V447M86.5 446V447M87.5 445V446M88.5 444V445M89.5 444V445M90.5 443V444M91.5 442V443M92.5 442V443M93.5 441V442M94.5 441V442M95.5 441V442M96.5 440V441M97.5 441V442M98.5 441V442M99.5 441V442M100.5 442V443M101.5 442V443M102.5 442V443M103.5 443V444M104.5 444V445M105.5 444V445M106.5 445V446M107.5 445V446M108.5 445V446M109.5 446V447M110.5 446V447M111.5 447V448M112.5 447V448M113.5 446V447M114.5 446V447M115.5 446V447M116.5 445V446M117.5 445V446M118.5 445V446M119.5 444V445M120.5 444V445M121.5 443V444M122.5 443V444M123.5 443V444M124.5 443V444M125.5 442V443M126.5 442V443M127.5 442V443M128.5 442V443M129.5 442V443M130.5 441V442M131.5 441V442M132.5 441V442M133.5 441V442M134.5 441V442M135.5 441V442M136.5 441V442M137.5 441V442M138.5 440V441M139.5 440V441M140.5 440V441M141.5 441V442M142.5 441V442M143.5 441V442M144.5 441V442M145.5 442V443M146.5 442V443M147.5 442V443M148.5 442V443M149.5 443V444M150.5 443V444M151.5 443V444M152.5 444V445M153.5 444V445M154.5 444V445M155.5 445V446M156.5 445V446M157.5 445V446M158.5 446V447M159.5 446V447M160.5 446V447M161.5 446V447M162.5 446V447M163.5 446V447M164.5 446V447M165.5 446V447M166.5 446V447M167.5 446V447M168.5 446V447M169.5 446V447M170.5 446V447M171.5 446V447M172.5 446V447M173.5 446V447M174.5 446V447M175.5 445V446M176.5 445V446M177.5 445V446M178.5 445V446M179.5 445V446M180.5 444V445M181.5 444V445M182.5 443V444M183.5 443V444M184.5 443V444M185.5 442V443M186.5 441V442M187.5 440V441M188.5 439V440M189.5 439V440M190.5 438V439M191.5 437V438M192.5 436V437M193.5 435V436M194.5 434V435M195.5 433V434M196.5 432V433M197.5 432V433M198.5 431V432M199.5 431V432M200.5 431V432M201.5 431V432M202.5 430V431M203.5 430V431M204.5 430V431M205.5 431V432M206.5 431V432M207.5 431V432M208.5 432V433M209.5 433V434M210.5 433V434M211.5 434V435M212.5 435V436M213.5 436V437M214.5 437V438M215.5 438V439M216.5 439V440M217.5 440V441M218.5 440V441M219.5 441V442M220.5 441V442M221.5 441V442M222.5 441V442M223.5 442V443M224.5 441V442M225.5 441V442M226.5 440V441M227.5 440V441M228.5 439V440M229.5 438V439M230.5 438V439M231.5 437V438M232.5 437V438M233.5 436V437M234.5 435V436M235.5 435V436M236.5 435V436M237.5 434V435M238.5 434V435M239.5 434V435M240.5 433V434M241.5 434V435M242.5 434V435M243.5 434V435M244.5 434V435M245.5 434V435M246.5 434V435M247.5 435V436M248.5 435V436M249.5 436V437M250.5 436V437M251.5 437V438M252.5 437V438M253.5 438V439M254.5 438V439M255.5 439V440M256.5 439V440M257.5 440V441M258.5 440V441M259.5 441V442M260.5 440V441M261.5 440V441M262.5 439V440M263.5 439V440M264.5 439V440M265.5 438V439M266.5 438V439M267.5 437V438M268.5 436V437M269.5 435V436M270.5 434V435M271.5 432V434M272.5 431V432M273.5 430V431M274.5 429V430M275.5 428V429M276.5 427V428M277.5 426V427M278.5 425V426M279.5 424V425M280.5 423V424M281.5 422V423M282.5 421V422M283.5 420V421M284.5 419V420M285.5 418V419M286.5 418V419M287.5 417V418M288.5 417V418M289.5 417V418M290.5 416V417M291.5 417V418M292.5 417V418M293.5 418V419M294.5 419V420M295.5 419V421M296.5 421V422M297.5 422V424M298.5 424V425M299.5 425V427M300.5 427V428M301.5 428V430M302.5 430V431M303.5 431V433M304.5 433V434M305.5 434V435M306.5 435V437M307.5 437V438M308.5 438V439M309.5 439V440M310.5 440V441M311.5 441V442M312.5 442V443M313.5 443V444M314.5 443V444M315.5 444V445M316.5 444V445M317.5 445V446M318.5 445V446M319.5 445V446M320.5 445V446M321.5 445V446M322.5 446V447M323.5 446V447M324.5 446V447M325.5 446V447M326.5 446V447M327.5 446V447M328.5 446V447M329.5 446V447M330.5 446V447M331.5 446V447M332.5 446V447M333.5 446V447M334.5 446V447M335.5 446V447M336.5 446V447M337.5 446V447M338.5 446V447M339.5 446V447M340.5 446V447M341.5 446V447M342.5 445V446M343.5 445V446M344.5 445V446M345.5 444V445M346.5 444V445M347.5 443V444M348.5 443V444M349.5 443V444M350.5 442V443M351.5 442V443M352.5 442V443M353.5 441V442M354.5 441V442M355.5 440V441M356.5 440V441M357.5 440V441M358.5 439V440M359.5 439V440M360.5 438V439M361.5 438V439M362.5 438V439M363.5 437V438M364.5 437V438M365.5 437V438M366.5 437V438M367.5 436V437M368.5 436V437M369.5 436V437M370.5 435V436M371.5 435V436M372.5 434V435M373.5 433V434M374.5 432V433M375.5 431V432M376.5 431V432M377.5 430V431M378.5 429V430M379.5 428V429M380.5 428V429M381.5 427V428M382.5 426V427M383.5 425V426M384.5 425V426M385.5 425V426M386.5 425V426M387.5 424V425M388.5 424V425M389.5 424V425M390.5 424V425M391.5 424V425M392.5 424V425M393.5 424V425M394.5 425V426M395.5 426V427M396.5 427V428M397.5 427V428M398.5 428V429M399.5 429V430M400.5 430V431M401.5 431V432M402.5 431V432M403.5 432V433M404.5 433V434M405.5 434V435M406.5 435V437M407.5 437V438M408.5 438V439M409.5 439V441M410.5 441V442M411.5 442V443M412.5 443V444M413.5 444V445M414.5 445V447M415.5 447V448M416.5 448V449M417.5 449V450M418.5 450V451M419.5 450V451M420.5 451V452M421.5 452V453M422.5 452V453M423.5 452V453M424.5 453V454M425.5 453V454M426.5 453V454M427.5 452V453M428.5 452V453M429.5 451V452M430.5 450V451M431.5 450V451M432.5 449V450M433.5 449V450M434.5 448V449M435.5 448V449M436.5 448V449M437.5 448V449M438.5 448V449M439.5 448V449M440.5 447V448M441.5 447V448M442.5 447V448M443.5 447V448M444.5 447V448M445.5 447V448M446.5 447V448M447.5 447V448M448.5 447V448M449.5 447V448M450.5 446V447M451.5 446V447M452.5 446V447M453.5 446V447M454.5 446V447M455.5 446V447M456.5 446V447M457.5 446V447M458.5 446V447M459.5 446V447M460.5 446V447M461.5 445V446M462.5 445V446M463.5 445V446M464.5 445V446M465.5 445V446M466.5 445V446M467.5 445V446M468.5 446V447M469.5 446V447M470.5 446V447M471.5 446V447M472.5 446V447M473.5 446V447M474.5 446V447M475.5 446V447M476.5 446V447M477.5 446V447M478.5 446V447M479.5 446V447M480.5 445V446M481.5 445V446M482.5 444V445M483.5 444V445M484.5 443V444M485.5 443V444M486.5 443V444M487.5 443V444M488.5 442V443M489.5 442V443M490.5 442V443M491.5 442V443M492.5 442V443M493.5 442V443M494.5 442V443M495.5 443V444M496.5 444V445M497.5 445V446M498.5 446V447M499.5 447V448M500.5 448V449M501.5 449V450M502.5 450V451M503.5 451V452M504.5 452V453M505.5 453V454M506.5 454V455M507.5 454V455M508.5 455V456M509.5 456V457M510.5 456V457M511.5 457V458M512.5 457V458M513.5 457V458M514.5 457V458M515.5 457V458M516.5 457V458M517.5 457V458M518.5 457V458M519.5 456V457M520.5 456V457M521.5 455V456M522.5 455V456M523.5 455V456M524.5 454V455M525.5 454V455M526.5 454V455M527.5 453V454M528.5 453V454M529.5 453V454M530.5 453V454M531.5 453V454M532.5 453V454M533.5 453V454M534.5 453V454M535.5 453V454M536.5 453V454M537.5 453V454M538.5 453V454M539.5 453V454M540.5 453V454M541.5 453V454M542.5 453V454M543.5 453V454M544.5 453V454M545.5 453V454M546.5 453V454M547.5 452V453M548.5 452V453M549.5 452V453M550.5 452V453M551.5 452V453M552.5 452V453M553.5 452V453M554.5 452V453M555.5 452V453M556.5 452V453M557.5 452V453M558.5 452V453M559.5 452V453M560.5 453V454M561.5 453V454M562.5 453V454M563.5 454V455M564.5 454V455M565.5 455V456M566.5 456V457M567.5 456V457M568.5 457V458M569.5 457V458M570.5 458V459M571.5 458V459M572.5 458V459M573.5 459V460M574.5 459V460M575.5 459V460M576.5 459V460M577.5 460V461M578.5 460V461M579.5 460V461M580.5 460V461M581.5 461V462M582.5 461V462M583.5 460V461M584.5 460V461M585.5 460V461M586.5 460V461M587.5 460V461M588.5 459V460M589.5 459V460M590.5 459V460M591.5 458V459M592.5 458V459M593.5 457V458M594.5 456V457M595.5 455V456M596.5 454V455M597.5 453V454M598.5 452V453M599.5 451V452M600.5 450V451M601.5 449V450M602.5 449V450M603.5 448V449M604.5 447V448M605.5 447V448M606.5 446V447M607.5 446V447M608.5 445V446M609.5 445V446M610.5 445V446M611.5 445V446M612.5 446V447M613.5 446V447M614.5 446V447M615.5 446V447M616.5 446V447M617.5 446V447M618.5 446V447M619.5 446V447M620.5 446V447M621.5 447V448M622.5 447V448M623.5 448V449M624.5 448V449M625.5 449V450M626.5 450V451M627.5 451V452M628.5 452V453M629.5 453V454M630.5 453V454M631.5 454V455M632.5 455V456M633.5 456V457M634.5 457V458M635.5 457V458M636.5 458V459M637.5 458V459M638.5 459V460M639.5 460V461M640.5 459V460M641.5 459V460M642.5 459V460M643.5 459V460M644.5 459V460M645.5 458V459M646.5 458V459M647.5 458V459M648.5 458V459M649.5 458V459M650.5 458V459M651.5 458V459M652.5 458V459M653.5 458V459M654.5 458V459M655.5 458V459M656.5 458V459M657.5 458V459M658.5 458V459M659.5 458V459M660.5 458V459M661.5 458V459M662.5 459V460M663.5 458V459M664.5 458V459M665.5 457V458M666.5 457V458M667.5 456V457M668.5 456V457M669.5 455V456M670.5 455V456M671.5 454V455M672.5 454V455M673.5 454V455M674.5 453V454M675.5 453V454M676.5 452V453M677.5 452V453M678.5 452V453M679.5 451V452M680.5 451V452M681.5 451V452M682.5 451V452M683.5 451V452M684.5 450V451M685.5 450V451M686.5 450V451M687.5 450V451M688.5 450V451M689.5 449V450M690.5 449V450M691.5 449V450M692.5 448V449M693.5 448V449M694.5 448V449M695.5 447V448M696.5 447V448M697.5 447V448M698.5 447V448M699.5 446V447M700.5 446V447M701.5 446V447M702.5 446V447M703.5 446V447M704.5 445V446M705.5 445V446M706.5 445V446M707.5 445V446M708.5 444V445M709.5 444V445M710.5 444V445M711.5 444V445M712.5 444V445M713.5 444V445M714.5 444V445M715.5 444V445M716.5 444V445M717.5 444V445M718.5 443V444M719.5 443V444M720.5 444V445M721.5 444V445M722.5 444V445M723.5 445V446M724.5 445V446M725.5 445V446M726.5 446V447M727.5 445V446M728.5 445V446M729.5 445V446M730.5 445V446M731.5 445V446M732.5 445V446M733.5 444V445M734.5 444V445M735.5 444V445M736.5 443V444M737.5 442V443M738.5 441V442M739.5 440V441M740.5 439V440M741.5 438V439M742.5 437V438M743.5 436V437M744.5 434V436M745.5 433V434M746.5 432V433M747.5 431V432M748.5 430V431M749.5 429V430M750.5 428V429M751.5 427V428M752.5 426V427M753.5 425V426M754.5 425V426M755.5 424V425M756.5 423V424M757.5 423V424M758.5 423V424M759.5 423V424M760.5 423V424M761.5 423V424M762.5 423V424M763.5 423V424M764.5 423V424M765.5 424V425M766.5 424V425M767.5 424V425M768.5 424V425M769.5 425V426M770.5 425V426M771.5 425V426M772.5 425V426M773.5 425V426M774.5 425V426M775.5 425V426M776.5 425V426M777.5 425V426M778.5 424V425M779.5 424V425M780.5 423V424M781.5 423V424M782.5 422V423M783.5 421V422M784.5 420V421M785.5 419V420M786.5 418V419M787.5 417V418M788.5 416V417M789.5 415V416M790.5 415V416M791.5 414V415M792.5 414V415M793.5 414V415M794.5 414V415M795.5 414V415M796.5 414V415M797.5 414V415M798.5 414V415M799.5 415V416M800.5 415V416M801.5 416V417M802.5 417V418M803.5 418V419M804.5 419V420M805.5 420V421M806.5 421V422M807.5 422V424M808.5 424V425M809.5 425V426M810.5 426V427M811.5 427V428M812.5 428V429M813.5 429V430M814.5 430V431M815.5 431V432M816.5 431V432M817.5 432V433M818.5 432V433M819.5 433V434M820.5 433V434M821.5 433V434M822.5 434V435M823.5 434V435M824.5 434V435M825.5 435V436M826.5 434V435M827.5 434V435M828.5 433V434M829.5 433V434M830.5 432V433M831.5 432V433M832.5 432V433M833.5 431V432M834.5 431V432M835.5 431V432M836.5 430V431M837.5 430V431M838.5 429V430M839.5 429V430M840.5 428V429M841.5 428V429M842.5 427V428M843.5 427V428M844.5 427V428M845.5 426V427M846.5 426V427M847.5 426V427M848.5 425V426M849.5 425V426M850.5 425V426M851.5 425V426M852.5 425V426M853.5 425V426M854.5 425V426M855.5 425V426M856.5 425V426M857.5 425V426M858.5 425V426M859.5 425V426M860.5 425V426M861.5 425V426M862.5 425V426M863.5 425V426M864.5 425V426M865.5 425V426M866.5 426V427M867.5 427V428M868.5 427V428M869.5 428V429M870.5 429V430M871.5 429V430M872.5 430V431M873.5 431V432M874.5 432V434M875.5 434V435M876.5 435V437M877.5 437V438M878.5 438V440M879.5 440V442M880.5 442V444M881.5 444V446M882.5 446V448M883.5 448V450M884.5 450V452M885.5 452V453M886.5 453V455M887.5 455V456M888.5 456V457M889.5 457V459M890.5 459V460M891.5 460V461M892.5 460V461M893.5 461V462M894.5 462V463M895.5 462V463M896.5 463V464M897.5 464V465M898.5 464V465M899.5 465V466M900.5 465V466M901.5 466V467M902.5 466V467M903.5 467V468M904.5 467V468M905.5 468V469M906.5 468V469M907.5 469V470M908.5 469V470M909.5 470V471M910.5 470V471M911.5 470V471M912.5 470V471M913.5 470V471M914.5 470V471M915.5 470V471M916.5 469V470M917.5 469V470M918.5 469V470M919.5 468V469M920.5 468V469M921.5 467V468M922.5 467V468M923.5 466V467M924.5 466V467M925.5 465V466M926.5 465V466M927.5 464V465M928.5 464V465M929.5 464V465" stroke="#ff0000" stroke-width="1" fill="none"/>
<path d="M5 498.5H1166" stroke="#c0c0c0" stroke-width="1" stroke-dasharray="3 3" fill="none"/>
<path d="M5 526.5H1166" stroke="#c0c0c0" stroke-width="1" stroke-dasharray="3 3" fill="none"/>
<path d="M4.5 518V519M5.5 518V519M6.5 518V519M7.5 516V518M8.5 513V516M9.5 510V513M10.5 509V510M11.5 510V511M12.5 510V512M13.5 509V510M14.5 508V509M15.5 507V508M16.5 506V508M17.5 508V510M18.5 510V512M19.5 512V513M20.5 511V512M21.5 510V511M22.5 510V511M23.5 509V510M24.5 508V509M25.5 508V509M26.5 509V510M27.5 510V512M28.5 512V513M29.5 513V514M30.5 512V513M31.5 511V512M32.5 510V511M33.5 510V511M34.5 510V511M35.5 510V511M36.5 510V511M37.5 511V512M38.5 512V513M39.5 513V514M40.5 514V515M41.5 515V517M42.5 517V518M43.5 516V518M44.5 514V516M45.5 514V516M46.5 516V519M47.5 519V520M48.5 520V521M49.5 520V521M50.5 521V522M51.5 520V521M52.5 519V520M53.5 519V520M54.5 518V519M55.5 518V519M56.5 519V520M57.5 519V520M58.5 519V520M59.5 519V520M60.5 518V519M61.5 518V519M62.5 517V518M63.5 516V517M64.5 515V516M65.5 514V515M66.5 514V515M67.5 513V514M68.5 514V515M69.5 514V515M70.5 515V516M71.5 516V517M72.5 515V516M73.5 515V516M74.5 514V515M75.5 513V514M76.5 512V513M77.5 511V512M78.5 509V511M79.5 508V509M80.5 507V508M81.5 506V507M82.5 505V506M83.5 504V505M84.5 504V505M85.5 504V505M86.5 503V504M87.5 504V506M88.5 506V507M89.5 507V508M90.5 507V508M91.5 507V508M92.5 506V509M93.5 509V514M94.5 514V520M95.5 520V522M96.5 522V523M97.5 522V523M98.5 523V524M99.5 523V524M100.5 522V524M101.5 520V522M102.5 517V520M103.5 515V517M104.5 512V515M105.5 510V512M106.5 508V510M107.5 508V509M108.5 508V509M109.5 507V508M110.5 508V509M111.5 509V510M112.5 510V512M113.5 512V514M114.5 514V516M115.5 516V517M116.5 514V516M117.5 512V514M118.5 511V512M119.5 511V512M120.5 511V512M121.5 512V513M122.5 510V512M123.5 509V510M124.5 508V509M125.5 508V509M126.5 508V509M127.5 507V509M128.5 509V511M129.5 511V514M130.5 514V515M131.5 514V515M132.5 513V514M133.5 512V513M134.5 512V513M135.5 512V513M136.5 513V514M137.5 513V514M138.5 513V514M139.5 513V514M140.5 514V515M141.5 513V514M142.5 512V514M143.5 514V516M144.5 516V517M145.5 516V517M146.5 516V517M147.5 516V517M148.5 516V517M149.5 516V517M150.5 515V516M151.5 515V516M152.5 515V516M153.5 516V517M154.5 517V518M155.5 518V519M156.5 519V520M157.5 518V519M158.5 517V518M159.5 516V517M160.5 514V516M161.5 513V514M162.5 512V513M163.5 510V512M164.5 509V510M165.5 510V511M166.5 510V511M167.5 510V511M168.5 511V512M169.5 512V514M170.5 514V515M171.5 515V516M172.5 516V517M173.5 516V517M174.5 516V518M175.5 514V516M176.5 511V514M177.5 508V511M178.5 506V508M179.5 503V506M180.5 502V503M181.5 502V503M182.5 502V503M183.5 501V502M184.5 502V503M185.5 502V503M186.5 502V503M187.5 500V502M188.5 499V500M189.5 498V499M190.5 498V499M191.5 497V498M192.5 497V498M193.5 498V499M194.5 499V500M195.5 500V502M196.5 502V504M197.5 504V507M198.5 507V510M199.5 510V512M200.5 512V514M201.5 514V515M202.5 515V516M203.5 515V516M204.5 516V517M205.5 517V518M206.5 517V518M207.5 517V518M208.5 517V518M209.5 517V518M210.5 518V519M211.5 516V518M212.5 515V516M213.5 513V515M214.5 512V513M215.5 512V513M216.5 511V512M217.5 511V512M218.5 510V511M219.5 510V511M220.5 508V510M221.5 506V508M222.5 504V506M223.5 501V504M224.5 499V501M225.5 499V502M226.5 502V505M227.5 505V506M228.5 504V505M229.5 504V505M230.5 504V505M231.5 504V505M232.5 505V506M233.5 506V507M234.5 506V507M235.5 507V508M236.5 507V509M237.5 509V512M238.5 512V514M239.5 512V513M240.5 512V513M241.5 511V512M242.5 512V513M243.5 512V513M244.5 513V514M245.5 514V515M246.5 515V516M247.5 516V518M248.5 518V519M249.5 516V518M250.5 513V516M251.5 512V513M252.5 512V513M253.5 512V513M254.5 512V513M255.5 512V513M256.5 510V512M257.5 508V510M258.5 506V508M259.5 503V506M260.5 502V503M261.5 501V502M262.5 500V501M263.5 500V501M264.5 499V500M265.5 498V499M266.5 498V499M267.5 498V499M268.5 499V500M269.5 499V500M270.5 500V501M271.5 499V501M272.5 498V499M273.5 496V498M274.5 495V496M275.5 494V495M276.5 493V494M277.5 492V493M278.5 493V494M279.5 493V494M280.5 493V494M281.5 494V495M282.5 495V497M283.5 497V500M284.5 500V503M285.5 503V506M286.5 506V508M287.5 508V509M288.5 508V509M289.5 508V509M290.5 508V509M291.5 508V509M292.5 509V511M293.5 511V513M294.5 513V514M295.5 514V516M296.5 516V518M297.5 518V519M298.5 519V520M299.5 519V520M300.5 519V520M301.5 519V520M302.5 519V520M303.5 517V519M304.5 516V517M305.5 517V518M306.5 518V519M307.5 519V520M308.5 520V521M309.5 519V521M310.5 516V519M311.5 513V516M312.5 511V513M313.5 510V511M314.5 509V510M315.5 510V511M316.5 510V511M317.5 510V511M318.5 511V512M319.5 512V513M320.5 513V514M321.5 514V515M322.5 515V516M323.5 515V516M324.5 515V516M325.5 514V515M326.5 514V515M327.5 514V515M328.5 514V515M329.5 515V516M330.5 515V516M331.5 514V515M332.5 514V515M333.5 514V515M334.5 514V515M335.5 513V514M336.5 513V514M337.5 513V514M338.5 513V515M339.5 511V513M340.5 508V511M341.5 505V508M342.5 503V505M343.5 502V504M344.5 504V506M345.5 506V509M346.5 509V512M347.5 512V513M348.5 512V513M349.5 512V513M350.5 512V513M351.5 510V512M352.5 509V510M353.5 507V509M354.5 506V507M355.5 507V508M356.5 508V509M357.5 508V509M358.5 507V508M359.5 506V507M360.5 505V506M361.5 505V506M362.5 504V505M363.5 504V505M364.5 503V504M365.5 503V504M366.5 502V503M367.5 503V504M368.5 503V505M369.5 499V503M370.5 497V499M371.5 495V497M372.5 494V495M373.5 495V496M374.5 496V497M375.5 497V499M376.5 499V500M377.5 500V501M378.5 499V500M379.5 498V499M380.5 497V499M381.5 499V501M382.5 501V503M383.5 503V506M384.5 506V508M385.5 508V509M386.5 508V509M387.5 508V509M388.5 509V510M389.5 510V511M390.5 511V512M391.5 512V513M392.5 513V514M393.5 513V514M394.5 514V515M395.5 514V515M396.5 514V515M397.5 514V515M398.5 513V515M399.5 512V513M400.5 511V513M401.5 513V514M402.5 514V517M403.5 517V520M404.5 520V522M405.5 522V523M406.5 523V524M407.5 524V525M408.5 525V526M409.5 524V526M410.5 522V524M411.5 521V522M412.5 520V521M413.5 519V520M414.5 518V519M415.5 518V519M416.5 517V518M417.5 517V518M418.5 516V517M419.5 515V516M420.5 514V515M421.5 513V514M422.5 513V514M423.5 512V513M424.5 511V512M425.5 510V511M426.5 509V510M427.5 508V510M428.5 510V511M429.5 511V513M430.5 513V514M431.5 514V515M432.5 515V516M433.5 516V517M434.5 515V516M435.5 514V515M436.5 515V516M437.5 516V517M438.5 517V518M439.5 518V519M440.5 519V520M441.5 517V519M442.5 515V517M443.5 514V515M444.5 513V514M445.5 512V513M446.5 511V512M447.5 510V511M448.5 510V511M449.5 509V510M450.5 509V510M451.5 510V512M452.5 512V513M453.5 513V515M454.5 515V516M455.5 516V517M456.5 516V517M457.5 515V516M458.5 514V515M459.5 513V514M460.5 513V514M461.5 514V516M462.5 516V517M463.5 517V518M464.5 517V518M465.5 517V518M466.5 516V517M467.5 515V516M468.5 514V515M469.5 513V514M470.5 513V514M471.5 513V514M472.5 513V514M473.5 513V514M474.5 513V514M475.5 513V514M476.5 511V513M477.5 509V511M478.5 506V509M479.5 505V506M480.5 505V506M481.5 504V505M482.5 504V506M483.5 506V508M484.5 508V509M485.5 509V511M486.5 511V512M487.5 512V514M488.5 514V517M489.5 517V520M490.5 520V522M491.5 522V524M492.5 524V525M493.5 525V526M494.5 525V526M495.5 524V526M496.5 526V528M497.5 528V529M498.5 529V530M499.5 529V530M500.5 529V530M501.5 526V529M502.5 522V526M503.5 520V522M504.5 519V520M505.5 518V519M506.5 518V519M507.5 519V520M508.5 520V521M509.5 519V521M510.5 518V519M511.5 516V518M512.5 515V516M513.5 516V517M514.5 516V517M515.5 517V518M516.5 518V519M517.5 519V520M518.5 518V520M519.5 517V518M520.5 515V517M521.5 514V515M522.5 513V514M523.5 512V513M524.5 513V515M525.5 515V516M526.5 516V517M527.5 517V518M528.5 517V518M529.5 517V518M530.5 517V519M531.5 519V520M532.5 520V521M533.5 521V522M534.5 522V524M535.5 524V525M536.5 524V526M537.5 521V524M538.5 517V521M539.5 515V517M540.5 515V516M541.5 514V515M542.5 514V515M543.5 513V514M544.5 513V514M545.5 512V513M546.5 511V512M547.5 510V512M548.5 512V515M549.5 515V519M550.5 519V522M551.5 522V523M552.5 522V523M553.5 522V523M554.5 522V523M555.5 522V523M556.5 522V524M557.5 520V522M558.5 519V520M559.5 519V521M560.5 521V523M561.5 523V524M562.5 523V524M563.5 521V523M564.5 520V521M565.5 520V521M566.5 520V521M567.5 520V521M568.5 520V521M569.5 521V522M570.5 521V522M571.5 522V523M572.5 522V523M573.5 521V522M574.5 521V522M575.5 522V523M576.5 523V524M577.5 524V525M578.5 524V525M579.5 523V524M580.5 524V525M581.5 524V526M582.5 520V524M583.5 516V520M584.5 514V516M585.5 513V514M586.5 513V514M587.5 512V513M588.5 512V513M589.5 512V513M590.5 511V512M591.5 511V512M592.5 509V511M593.5 507V509M594.5 506V508M595.5 508V511M596.5 511V513M597.5 512V513M598.5 512V513M599.5 512V513M600.5 512V513M601.5 512V513M602.5 512V513M603.5 513V514M604.5 514V515M605.5 515V517M606.5 516V518M607.5 515V516M608.5 514V515M609.5 515V516M610.5 515V516M611.5 516V517M612.5 516V517M613.5 516V517M614.5 516V517M615.5 516V517M616.5 517V518M617.5 517V518M618.5 517V519M619.5 515V517M620.5 514V518M621.5 518V523M622.5 523V526M623.5 525V526M624.5 526V527M625.5 526V527M626.5 526V527M627.5 526V527M628.5 526V527M629.5 527V528M630.5 527V528M631.5 527V529M632.5 525V527M633.5 520V525M634.5 515V520M635.5 513V515M636.5 513V514M637.5 514V515M638.5 513V514M639.5 513V514M640.5 512V513M641.5 513V514M642.5 513V515M643.5 515V518M644.5 518V520M645.5 520V521M646.5 521V523M647.5 523V524M648.5 524V525M649.5 524V525M650.5 523V524M651.5 523V524M652.5 522V523M653.5 522V523M654.5 520V522M655.5 518V520M656.5 515V518M657.5 514V515M658.5 513V514M659.5 512V513M660.5 511V512M661.5 511V512M662.5 512V513M663.5 512V513M664.5 513V514M665.5 514V515M666.5 515V516M667.5 516V517M668.5 517V518M669.5 518V519M670.5 517V518M671.5 517V518M672.5 517V518M673.5 518V519M674.5 517V519M675.5 516V517M676.5 514V516M677.5 513V514M678.5 513V514M679.5 512V513M680.5 512V513M681.5 513V514M682.5 513V514M683.5 514V515M684.5 515V516M685.5 514V515M686.5 514V515M687.5 513V514M688.5 513V514M689.5 513V514M690.5 511V513M691.5 508V511M692.5 506V508M693.5 506V509M694.5 509V513M695.5 513V514M696.5 514V515M697.5 515V516M698.5 515V516M699.5 514V516M700.5 513V514M701.5 512V513M702.5 511V512M703.5 511V512M704.5 510V512M705.5 512V513M706.5 513V514M707.5 513V514M708.5 514V515M709.5 514V515M710.5 514V515M711.5 514V515M712.5 515V516M713.5 514V516M714.5 512V514M715.5 511V512M716.5 510V512M717.5 512V515M718.5 515V517M719.5 517V519M720.5 519V521M721.5 519V520M722.5 518V519M723.5 517V518M724.5 516V517M725.5 515V516M726.5 513V515M727.5 512V513M728.5 510V512M729.5 508V510M730.5 507V508M731.5 505V507M732.5 504V505M733.5 503V504M734.5 503V504M735.5 503V504M736.5 502V503M737.5 501V502M738.5 501V502M739.5 500V501M740.5 499V500M741.5 499V500M742.5 499V500M743.5 499V500M744.5 498V499M745.5 498V499M746.5 499V500M747.5 500V501M748.5 501V502M749.5 500V501M750.5 499V501M751.5 501V502M752.5 502V503M753.5 501V502M754.5 500V502M755.5 502V504M756.5 504V505M757.5 505V507M758.5 507V508M759.5 508V509M760.5 509V510M761.5 510V511M762.5 509V510M763.5 508V509M764.5 509V510M765.5 507V509M766.5 505V507M767.5 502V505M768.5 501V502M769.5 500V501M770.5 500V501M771.5 501V503M772.5 503V504M773.5 503V504M774.5 502V503M775.5 500V502M776.5 499V500M777.5 498V499M778.5 496V498M779.5 495V496M780.5 495V496M781.5 496V497M782.5 496V497M783.5 496V497M784.5 496V497M785.5 496V497M786.5 497V498M787.5 498V499M788.5 499V501M789.5 501V502M790.5 502V504M791.5 504V505M792.5 505V506M793.5 505V506M794.5 506V507M795.5 506V507M796.5 507V508M797.5 508V509M798.5 509V510M799.5 509V510M800.5 510V511M801.5 511V512M802.5 511V512M803.5 512V513M804.5 513V514M805.5 513V514M806.5 512V513M807.5 511V512M808.5 510V511M809.5 510V511M810.5 510V511M811.5 509V510M812.5 510V511M813.5 510V511M814.5 509V511M815.5 507V509M816.5 505V507M817.5 504V505M818.5 504V505M819.5 503V504M820.5 503V504M821.5 503V504M822.5 503V505M823.5 505V509M824.5 509V511M825.5 506V509M826.5 503V506M827.5 500V503M828.5 499V500M829.5 499V500M830.5 500V502M831.5 502V503M832.5 501V502M833.5 501V503M834.5 503V505M835.5 505V507M836.5 505V506M837.5 504V505M838.5 504V505M839.5 504V505M840.5 503V504M841.5 503V504M842.5 503V504M843.5 502V503M844.5 503V504M845.5 503V504M846.5 503V505M847.5 502V503M848.5 501V502M849.5 500V501M850.5 500V501M851.5 500V502M852.5 502V504M853.5 504V506M854.5 505V506M855.5 506V507M856.5 507V508M857.5 508V509M858.5 509V510M859.5 508V510M860.5 507V508M861.5 505V507M862.5 504V505M863.5 504V505M864.5 504V505M865.5 504V505M866.5 505V507M867.5 507V509M868.5 509V512M869.5 512V517M870.5 517V520M871.5 520V523M872.5 523V526M873.5 526V528M874.5 528V529M875.5 528V529M876.5 528V530M877.5 526V528M878.5 523V526M879.5 522V523M880.5 521V522M881.5 520V521M882.5 519V520M883.5 519V520M884.5 520V521M885.5 521V522M886.5 520V521M887.5 520V521M888.5 520V521M889.5 521V522M890.5 522V523M891.5 522V523M892.5 523V524M893.5 523V524M894.5 524V525M895.5 524V525M896.5 525V526M897.5 521V525M898.5 518V521M899.5 518V520M900.5 520V522M901.5 521V522M902.5 521V522M903.5 520V521M904.5 520V521M905.5 520V521M906.5 520V521M907.5 520V521M908.5 519V520M909.5 519V520M910.5 519V520M911.5 519V520M912.5 518V519M913.5 518V519M914.5 518V519M915.5 518V519M916.5 517V518M917.5 516V517M918.5 516V518M919.5 518V519M920.5 519V520M921.5 518V519M922.5 518V519M923.5 517V519M924.5 516V517M925.5 516V517M926.5 517V518M927.5 517V518M928.5 518V519" stroke="#1e90ff" stroke-width="1" fill="none"/>
<rect x="3" y="25" width="1164" height="1" fill="#000"/>
<rect x="3" y="25" width="1" height="379" fill="#000"/>
<rect x="1166" y="25" width="1" height="379" fill="#000"/>
<rect x="3" y="403" width="1164" height="1" fill="#000"/>
<rect x="3" y="405" width="1164" height="1" fill="#000"/>
<rect x="3" y="405" width="1" height="70" fill="#000"/>
<rect x="1166" y="405" width="1" height="70" fill="#000"/>
<rect x="3" y="474" width="1164" height="1" fill="#000"/>
<rect x="3" y="476" width="1164" height="1" fill="#000"/>
<rect x="3" y="476" width="1" height="73" fill="#000"/>
<rect x="1166" y="476" width="1" height="73" fill="#000"/>
<rect x="3" y="548" width="1164" height="1" fill="#000"/>
<rect x="1167" y="37" width="2" height="1" fill="#000"/>
<rect x="1167" y="70" width="2" height="1" fill="#000"/>
<rect x="1167" y="103" width="2" height="1" fill="#000"/>
<rect x="1167" y="136" width="2" height="1" fill="#000"/>
<rect x="1167" y="169" width="2" height="1" fill="#000"/>
<rect x="1167" y="202" width="2" height="1" fill="#000"/>
<rect x="1167" y="235" width="2" height="1" fill="#000"/>
<rect x="1167" y="268" width="2" height="1" fill="#000"/>
<rect x="1167" y="301" width="2" height="1" fill="#000"/>
<rect x="1167" y="334" width="2" height="1" fill="#000"/>
<rect x="1167" y="367" width="2" height="1" fill="#000"/>
<rect x="1167" y="400" width="2" height="1" fill="#000"/>
<rect x="1167" y="407" width="1" height="1" fill="#000"/>
<rect x="1167" y="443" width="1" height="1" fill="#000"/>
<rect x="1167" y="472" width="1" height="1" fill="#000"/>
<rect x="1167" y="478" width="1" height="1" fill="#000"/>
<rect x="4" y="549" width="1" height="3" fill="#000"/>
<rect x="68" y="549" width="1" height="3" fill="#000"/>
<rect x="132" y="549" width="1" height="3" fill="#000"/>
<rect x="196" y="549" width="1" height="3" fill="#000"/>
<rect x="260" y="549" width="1" height="3" fill="#000"/>
<rect x="324" y="549" width="1" height="3" fill="#000"/>
<rect x="388" y="549" width="1" height="3" fill="#000"/>
<rect x="452" y="549" width="1" height="3" fill="#000"/>
<rect x="516" y="549" width="1" height="3" fill="#000"/>
<rect x="580" y="549" width="1" height="3" fill="#000"/>
<rect x="644" y="549" width="1" height="3" fill="#000"/>
<rect x="708" y="549" width="1" height="3" fill="#000"/>
<rect x="772" y="549" width="1" height="3" fill="#000"/>
<rect x="836" y="549" width="1" height="3" fill="#000"/>
<rect x="900" y="549" width="1" height="3" fill="#000"/>
<rect x="3" y="130" width="6" height="6" fill="#ff0000"/><rect x="5" y="132" width="2" height="2" fill="#fff"/>
<rect x="1160" y="130" width="6" height="6" fill="#ff0000"/><rect x="1162" y="132" width="2" height="2" fill="#fff"/>
<rect x="3" y="204" width="6" height="6" fill="#ff0000"/><rect x="5" y="206" width="2" height="2" fill="#fff"/>
<rect x="1160" y="204" width="6" height="6" fill="#ff0000"/><rect x="1162" y="206" width="2" height="2" fill="#fff"/>
<rect x="3" y="276" width="6" height="6" fill="#00ff00"/><rect x="5" y="278" width="2" height="2" fill="#fff"/>
<rect x="1160" y="276" width="6" height="6" fill="#00ff00"/><rect x="1162" y="278" width="2" height="2" fill="#fff"/>
</svg>
<!-- one click panel -->
<div class="abs" style="left:7px;top:45px;width:109px;height:57px;background:#0000a4;clip-path:polygon(0 0,52px 0,52px 24px,109px 24px,109px 57px,0 57px)"></div>
<div class="abs" style="left:7px;top:45px;width:109px;height:57px;background:linear-gradient(#5e5eff,#0000b0);clip-path:polygon(1px 1px,51px 1px,51px 25px,108px 25px,108px 56px,1px 56px)"></div>
<div class="abs" style="left:118px;top:45px;width:108px;height:57px;background:#0000a4;clip-path:polygon(56px 0,108px 0,108px 57px,0 57px,0 24px,56px 24px)"></div>
<div class="abs" style="left:118px;top:45px;width:108px;height:57px;background:linear-gradient(#5e5eff,#0000b0);clip-path:polygon(57px 1px,107px 1px,107px 56px,1px 56px,1px 25px,57px 25px)"></div>
<div class="abs" style="left:11px;top:68px;width:44px;height:1px;background:#000096"></div>
<div class="abs" style="left:11px;top:69px;width:44px;height:1px;background:#7c7cf4"></div>
<div class="abs" style="left:178px;top:68px;width:44px;height:1px;background:#000096"></div>
<div class="abs" style="left:178px;top:69px;width:44px;height:1px;background:#7c7cf4"></div>
<div class="abs" style="left:61px;top:45px;width:111px;height:22px;background:#fff;border:1px solid #adadb3;box-sizing:border-box"></div>
<div class="abs" style="left:63px;top:47px;width:19px;height:18px;background:linear-gradient(#f3f3f3 0%,#ebebeb 45%,#dddddd 50%,#d4d4d4 100%)"></div>
<div class="abs" style="left:82px;top:46px;width:1px;height:20px;background:#adadb3"></div>
<div class="abs" style="left:151px;top:47px;width:19px;height:18px;background:linear-gradient(#f3f3f3 0%,#ebebeb 45%,#dddddd 50%,#d4d4d4 100%)"></div>
<div class="abs" style="left:150px;top:46px;width:1px;height:20px;background:#adadb3"></div>
<div class="abs" style="left:69px;top:54px;width:0;height:0;border-left:3px solid transparent;border-right:3px solid transparent;border-top:3.5px solid #4a5cc0"></div>
<div class="abs" style="left:157.5px;top:53.5px;width:0;height:0;border-left:3px solid transparent;border-right:3px solid transparent;border-bottom:3.5px solid #4a5cc0"></div>
<div class="abs" style="left:7px;top:32px;width:0;height:0;border-left:3.7px solid transparent;border-right:3.7px solid transparent;border-bottom:4.6px solid #000"></div>
<div class="t" style="left:1171.5px;top:34.27px;font-size:9.6px;line-height:9.6px;color:#000;font-weight:normal;letter-spacing:-0.117px;">0.93780</div>
<div class="t" style="left:1171.5px;top:67.27px;font-size:9.6px;line-height:9.6px;color:#000;font-weight:normal;letter-spacing:-0.117px;">0.93510</div>
<div class="t" style="left:1171.5px;top:100.27px;font-size:9.6px;line-height:9.6px;color:#000;font-weight:normal;letter-spacing:-0.117px;">0.93240</div>
<div class="t" style="left:1171.5px;top:133.27px;font-size:9.6px;line-height:9.6px;color:#000;font-weight:normal;letter-spacing:-0.117px;">0.92970</div>
<div class="t" style="left:1171.5px;top:166.27px;font-size:9.6px;line-height:9.6px;color:#000;font-weight:normal;letter-spacing:-0.117px;">0.92700</div>
<div class="t" style="left:1171.5px;top:199.27px;font-size:9.6px;line-height:9.6px;color:#000;font-weight:normal;letter-spacing:-0.117px;">0.92430</div>
<div class="t" style="left:1171.5px;top:232.27px;font-size:9.6px;line-height:9.6px;color:#000;font-weight:normal;letter-spacing:-0.117px;">0.92160</div>
<div class="t" style="left:1171.5px;top:265.27px;font-size:9.6px;line-height:9.6px;color:#000;font-weight:normal;letter-spacing:-0.117px;">0.91890</div>
<div class="t" style="left:1171.5px;top:298.27px;font-size:9.6px;line-height:9.6px;color:#000;font-weight:normal;letter-spacing:-0.117px;">0.91620</div>
<div class="t" style="left:1171.5px;top:331.27px;font-size:9.6px;line-height:9.6px;color:#000;font-weight:normal;letter-spacing:-0.117px;">0.91350</div>
<div class="t" style="left:1171.5px;top:364.27px;font-size:9.6px;line-height:9.6px;color:#000;font-weight:normal;letter-spacing:-0.117px;">0.91080</div>
<div class="t" style="left:1171.5px;top:397.27px;font-size:9.6px;line-height:9.6px;color:#000;font-weight:normal;letter-spacing:-0.117px;">0.90810</div>
<div style="position:absolute;left:1168px;top:127px;width:40px;height:11px;background:#ff0000"></div>
<div class="t" style="left:1171.5px;top:129.27px;font-size:9.6px;line-height:9.6px;color:#fff;font-weight:normal;letter-spacing:-0.167px;">0.93001</div>
<div style="position:absolute;left:1168px;top:201px;width:40px;height:11px;background:#ff0000"></div>
<div class="t" style="left:1171.5px;top:203.27px;font-size:9.6px;line-height:9.6px;color:#fff;font-weight:normal;letter-spacing:-0.167px;">0.92394</div>
<div style="position:absolute;left:1168px;top:251px;width:40px;height:11px;background:#000"></div>
<div class="t" style="left:1171.5px;top:253.27px;font-size:9.6px;line-height:9.6px;color:#fff;font-weight:normal;letter-spacing:-0.167px;">0.91986</div>
<div style="position:absolute;left:1168px;top:273px;width:40px;height:11px;background:#00ff00"></div>
<div class="t" style="left:1171.5px;top:275.27px;font-size:9.6px;line-height:9.6px;color:#fff;font-weight:normal;letter-spacing:-0.167px;">0.91802</div>
<div style="position:absolute;left:1168px;top:346px;width:40px;height:11px;background:#0000ff"></div>
<div class="t" style="left:1171.5px;top:348.27px;font-size:9.6px;line-height:9.6px;color:#fff;font-weight:normal;letter-spacing:-0.167px;">0.91206</div>
<div class="t" style="left:1169.8px;top:409.27px;font-size:9.6px;line-height:9.6px;color:#000;font-weight:normal;letter-spacing:-0.05px;">0.003811</div>
<div class="t" style="left:1169.9px;top:440.27px;font-size:9.6px;line-height:9.6px;color:#000;font-weight:normal;letter-spacing:-0.161px;">0.00</div>
<div class="t" style="left:1169.8px;top:465.27px;font-size:9.6px;line-height:9.6px;color:#000;font-weight:normal;letter-spacing:-0.05px;">-0.003115</div>
<div class="t" style="left:1170.3px;top:480.27px;font-size:9.6px;line-height:9.6px;color:#000;font-weight:normal;letter-spacing:-0.609px;">100</div>
<div class="t" style="left:1169.4px;top:495.27px;font-size:9.6px;line-height:9.6px;color:#000;font-weight:normal;letter-spacing:-0.378px;">70</div>
<div class="t" style="left:1169.3px;top:522.87px;font-size:9.6px;line-height:9.6px;color:#000;font-weight:normal;letter-spacing:-0.278px;">30</div>
<div class="t" style="left:1169.9px;top:538.27px;font-size:9.6px;line-height:9.6px;color:#000;font-weight:normal;">0</div>
<div class="t" style="left:7.800000000000001px;top:411.27px;font-size:9.6px;line-height:9.6px;color:#000;font-weight:normal;letter-spacing:-0.119px;">MACD(12,26,9) -0.001679 -0.002085</div>
<div class="t" style="left:7.800000000000001px;top:482.27px;font-size:9.6px;line-height:9.6px;color:#000;font-weight:normal;letter-spacing:-0.160px;">RSI(14) 44.1648</div>
<div class="t" style="left:18.8px;top:30.27px;font-size:9.6px;line-height:9.6px;color:#000;font-weight:normal;letter-spacing:0.029px;">USDCHF-,H4</div>
<div class="t" style="left:82.5px;top:30.27px;font-size:9.6px;line-height:9.6px;color:#000;font-weight:normal;letter-spacing:-0.234px;">0.91972</div>
<div class="t" style="left:118.7px;top:30.27px;font-size:9.6px;line-height:9.6px;color:#000;font-weight:normal;letter-spacing:-0.267px;">0.91990</div>
<div class="t" style="left:154.5px;top:30.27px;font-size:9.6px;line-height:9.6px;color:#000;font-weight:normal;letter-spacing:-0.250px;">0.91970</div>
<div class="t" style="left:190.5px;top:30.27px;font-size:9.6px;line-height:9.6px;color:#000;font-weight:normal;letter-spacing:-0.117px;">0.91986</div>
<div class="t" style="left:3.1px;top:554.27px;font-size:9.6px;line-height:9.6px;color:#000;font-weight:normal;letter-spacing:-0.112px;">18 Aug 2021</div>
<div class="t" style="left:67.0px;top:554.27px;font-size:9.6px;line-height:9.6px;color:#000;font-weight:normal;letter-spacing:-0.026px;">25 Aug 08:00</div>
<div class="t" style="left:131.2px;top:554.27px;font-size:9.6px;line-height:9.6px;color:#000;font-weight:normal;letter-spacing:-0.168px;">1 Sep 16:00</div>
<div class="t" style="left:195.1px;top:554.27px;font-size:9.6px;line-height:9.6px;color:#000;font-weight:normal;letter-spacing:-0.158px;">9 Sep 00:00</div>
<div class="t" style="left:258.7px;top:554.27px;font-size:9.6px;line-height:9.6px;color:#000;font-weight:normal;letter-spacing:-0.129px;">16 Sep 08:00</div>
<div class="t" style="left:322.7px;top:554.27px;font-size:9.6px;line-height:9.6px;color:#000;font-weight:normal;letter-spacing:-0.138px;">23 Sep 16:00</div>
<div class="t" style="left:387.2px;top:554.27px;font-size:9.6px;line-height:9.6px;color:#000;font-weight:normal;letter-spacing:-0.083px;">1 Oct 00:00</div>
<div class="t" style="left:450.8px;top:554.27px;font-size:9.6px;line-height:9.6px;color:#000;font-weight:normal;letter-spacing:-0.023px;">8 Oct 08:00</div>
<div class="t" style="left:515.1px;top:554.27px;font-size:9.6px;line-height:9.6px;color:#000;font-weight:normal;letter-spacing:-0.115px;">15 Oct 16:00</div>
<div class="t" style="left:578.7px;top:554.27px;font-size:9.6px;line-height:9.6px;color:#000;font-weight:normal;letter-spacing:-0.015px;">25 Oct 00:00</div>
<div class="t" style="left:643.2px;top:554.27px;font-size:9.6px;line-height:9.6px;color:#000;font-weight:normal;letter-spacing:0.033px;">1 Nov 08:00</div>
<div class="t" style="left:706.5px;top:554.27px;font-size:9.6px;line-height:9.6px;color:#000;font-weight:normal;letter-spacing:0.043px;">8 Nov 16:00</div>
<div class="t" style="left:770.8px;top:554.27px;font-size:9.6px;line-height:9.6px;color:#000;font-weight:normal;letter-spacing:-0.037px;">16 Nov 00:00</div>
<div class="t" style="left:834.5px;top:554.27px;font-size:9.6px;line-height:9.6px;color:#000;font-weight:normal;letter-spacing:0.045px;">23 Nov 08:00</div>
<div class="t" style="left:898.7px;top:554.27px;font-size:9.6px;line-height:9.6px;color:#000;font-weight:normal;letter-spacing:0.045px;">30 Nov 16:00</div>
<div class="t" style="left:0.5px;top:5.62px;font-size:9.2px;line-height:9.2px;color:#3c3c3c;font-weight:normal;">5</div>
<div class="t" style="left:15.2px;top:5.62px;font-size:9.2px;line-height:9.2px;color:#3c3c3c;font-weight:normal;letter-spacing:0.201px;">M30</div>
<div class="t" style="left:46.2px;top:5.62px;font-size:9.2px;line-height:9.2px;color:#3c3c3c;font-weight:normal;letter-spacing:0.539px;">H1</div>
<div class="t" style="left:73.2px;top:5.62px;font-size:9.2px;line-height:9.2px;color:#3c3c3c;font-weight:normal;letter-spacing:1.339px;">H4</div>
<div class="t" style="left:102.1px;top:5.62px;font-size:9.2px;line-height:9.2px;color:#3c3c3c;font-weight:normal;letter-spacing:0.839px;">D1</div>
<div class="t" style="left:129.5px;top:5.62px;font-size:9.2px;line-height:9.2px;color:#3c3c3c;font-weight:normal;letter-spacing:1.200px;">W1</div>
<div class="t" style="left:156.0px;top:5.62px;font-size:9.2px;line-height:9.2px;color:#3c3c3c;font-weight:normal;letter-spacing:1.192px;">MN</div>
<div class="t" style="left:15.899999999999999px;top:576.50px;font-size:11.9px;line-height:11.9px;color:#7d7d7d;font-weight:normal;letter-spacing:0.343px;">USDX,Weekly</div>
<div class="t" style="left:115.6px;top:576.50px;font-size:11.9px;line-height:11.9px;color:#7d7d7d;font-weight:normal;letter-spacing:0.144px;">EURUSD-,Daily</div>
<div class="t" style="left:222.7px;top:576.50px;font-size:11.9px;line-height:11.9px;color:#7d7d7d;font-weight:normal;letter-spacing:0.328px;">AUDUSD-,Daily</div>
<div class="t" style="left:427.8px;top:576.50px;font-size:11.9px;line-height:11.9px;color:#7d7d7d;font-weight:normal;letter-spacing:0.211px;">USDCAD-,Daily</div>
<div class="t" style="left:537.1px;top:576.50px;font-size:11.9px;line-height:11.9px;color:#7d7d7d;font-weight:normal;letter-spacing:0.315px;">USDCNH-,Daily</div>
<div class="t" style="left:647.7px;top:576.50px;font-size:11.9px;line-height:11.9px;color:#7d7d7d;font-weight:normal;letter-spacing:0.274px;">XAUUSD-,Daily</div>
<div class="t" style="left:756.0px;top:576.50px;font-size:11.9px;line-height:11.9px;color:#7d7d7d;font-weight:normal;letter-spacing:0.368px;">UKOil-,H1</div>
<div class="t" style="left:836.9px;top:576.50px;font-size:11.9px;line-height:11.9px;color:#7d7d7d;font-weight:normal;letter-spacing:0.263px;">DJ30-,H4</div>
<div class="t" style="left:912.0px;top:576.50px;font-size:11.9px;line-height:11.9px;color:#7d7d7d;font-weight:normal;letter-spacing:0.400px;">UK100-,Daily</div>
<div class="t" style="left:333.1px;top:576.50px;font-size:11.9px;line-height:11.9px;color:#000;font-weight:normal;letter-spacing:0.026px;">USDCHF-,H4</div>
<div style="position:absolute;left:105px;top:575px;width:1px;height:13px;background:#7a7a7a"></div>
<div style="position:absolute;left:213px;top:575px;width:1px;height:13px;background:#7a7a7a"></div>
<div style="position:absolute;left:525px;top:575px;width:1px;height:13px;background:#7a7a7a"></div>
<div style="position:absolute;left:637px;top:575px;width:1px;height:13px;background:#7a7a7a"></div>
<div style="position:absolute;left:745px;top:575px;width:1px;height:13px;background:#7a7a7a"></div>
<div style="position:absolute;left:825px;top:575px;width:1px;height:13px;background:#7a7a7a"></div>
<div style="position:absolute;left:901px;top:575px;width:1px;height:13px;background:#7a7a7a"></div>
<div style="position:absolute;left:998px;top:575px;width:1px;height:13px;background:#7a7a7a"></div>
<div class="t" style="left:19.1px;top:51.64px;font-size:11.6px;line-height:11.6px;color:#fff;font-weight:normal;letter-spacing:-0.826px;">SELL</div>
<div class="t" style="left:187.3px;top:51.64px;font-size:11.6px;line-height:11.6px;color:#fff;font-weight:normal;letter-spacing:-0.526px;">BUY</div>
<div class="t" style="left:122.7px;top:50.61px;font-size:11.8px;line-height:11.8px;color:#202020;font-weight:normal;letter-spacing:0.478px;">0.01</div>
<div class="t" style="left:26.5px;top:87.50px;font-size:11.9px;line-height:11.9px;color:#fff;font-weight:bold;letter-spacing:0.546px;">0.91</div>
<div class="t" style="left:137.0px;top:87.50px;font-size:11.9px;line-height:11.9px;color:#fff;font-weight:bold;letter-spacing:0.313px;">0.92</div>
<div class="t" style="left:55.2px;top:68.22px;font-size:33px;line-height:33px;color:#fff;font-weight:normal;-webkit-text-stroke:0.5px #1e1eca;letter-spacing:-2.506px;">98</div>
<div class="t" style="left:165.4px;top:68.22px;font-size:33px;line-height:33px;color:#fff;font-weight:normal;-webkit-text-stroke:0.5px #1e1eca;letter-spacing:-1.806px;">00</div>
<div class="t" style="left:94.6px;top:72.63px;font-size:10.8px;line-height:10.8px;color:#fff;font-weight:bold;">6</div>
<div class="t" style="left:205.2px;top:72.63px;font-size:10.8px;line-height:10.8px;color:#fff;font-weight:bold;">9</div>
</body></html>
